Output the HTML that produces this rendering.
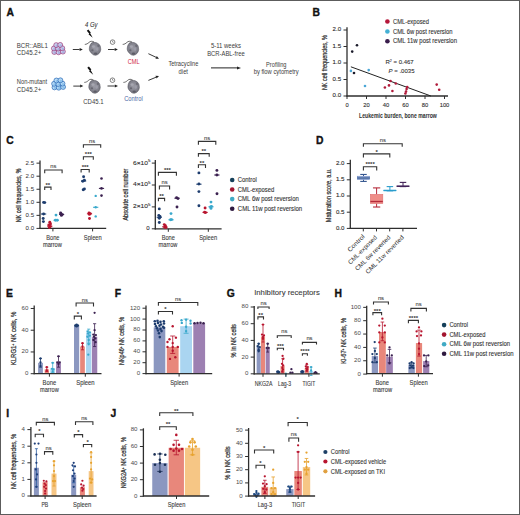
<!DOCTYPE html>
<html><head><meta charset="utf-8"><style>
html,body{margin:0;padding:0;background:#fff;}
svg{display:block;}
text{font-family:"Liberation Sans", sans-serif;}
</style></head><body>
<svg width="520" height="515" viewBox="0 0 520 515">
<defs><radialGradient id="mg" cx="0.5" cy="0.45" r="0.6"><stop offset="0" stop-color="#9c9ca6"/><stop offset="0.7" stop-color="#80808a"/><stop offset="1" stop-color="#62626b"/></radialGradient></defs>
<rect width="520" height="515" fill="#fff"/>
<text x="6.60" y="15.90" font-size="10.3" fill="#111" font-weight="bold" stroke="#111" stroke-width="0.35">A</text>
<text x="312.60" y="15.90" font-size="10.3" fill="#111" font-weight="bold" stroke="#111" stroke-width="0.35">B</text>
<text x="6.30" y="143.90" font-size="10.3" fill="#111" font-weight="bold" stroke="#111" stroke-width="0.35">C</text>
<text x="316.00" y="143.90" font-size="10.3" fill="#111" font-weight="bold" stroke="#111" stroke-width="0.35">D</text>
<text x="5.90" y="296.90" font-size="10.3" fill="#111" font-weight="bold" stroke="#111" stroke-width="0.35">E</text>
<text x="114.80" y="296.80" font-size="10.3" fill="#111" font-weight="bold" stroke="#111" stroke-width="0.35">F</text>
<text x="226.80" y="297.00" font-size="10.3" fill="#111" font-weight="bold" stroke="#111" stroke-width="0.35">G</text>
<text x="334.40" y="297.00" font-size="10.3" fill="#111" font-weight="bold" stroke="#111" stroke-width="0.35">H</text>
<text x="6.30" y="416.90" font-size="10.3" fill="#111" font-weight="bold" stroke="#111" stroke-width="0.35">I</text>
<text x="110.60" y="416.90" font-size="10.3" fill="#111" font-weight="bold" stroke="#111" stroke-width="0.35">J</text>
<text x="16.80" y="47.80" font-size="6.3" fill="#3c3c3c" textLength="31.00" lengthAdjust="spacingAndGlyphs" >BCR::ABL1</text>
<text x="16.80" y="54.70" font-size="6.3" fill="#3c3c3c" textLength="24.50" lengthAdjust="spacingAndGlyphs" >CD45.2+</text>
<text x="16.80" y="84.20" font-size="6.3" fill="#3c3c3c" textLength="30.20" lengthAdjust="spacingAndGlyphs" >Non-mutant</text>
<text x="16.80" y="91.70" font-size="6.3" fill="#3c3c3c" textLength="24.50" lengthAdjust="spacingAndGlyphs" >CD45.2+</text>
<circle cx="54.30" cy="52.00" r="2.45" fill="#ccd2f0" stroke="#962c6e" stroke-width="0.65"/>
<circle cx="54.80" cy="52.60" r="1.20" fill="#8e94d4" fill-opacity="0.55"/>
<circle cx="58.60" cy="52.30" r="2.45" fill="#ccd2f0" stroke="#962c6e" stroke-width="0.65"/>
<circle cx="59.10" cy="52.90" r="1.20" fill="#8e94d4" fill-opacity="0.55"/>
<circle cx="62.90" cy="51.60" r="2.45" fill="#ccd2f0" stroke="#962c6e" stroke-width="0.65"/>
<circle cx="63.40" cy="52.20" r="1.20" fill="#8e94d4" fill-opacity="0.55"/>
<circle cx="53.90" cy="48.40" r="2.45" fill="#ccd2f0" stroke="#962c6e" stroke-width="0.65"/>
<circle cx="54.40" cy="49.00" r="1.20" fill="#8e94d4" fill-opacity="0.55"/>
<circle cx="58.10" cy="48.60" r="2.45" fill="#ccd2f0" stroke="#962c6e" stroke-width="0.65"/>
<circle cx="58.60" cy="49.20" r="1.20" fill="#8e94d4" fill-opacity="0.55"/>
<circle cx="62.30" cy="48.20" r="2.45" fill="#ccd2f0" stroke="#962c6e" stroke-width="0.65"/>
<circle cx="62.80" cy="48.80" r="1.20" fill="#8e94d4" fill-opacity="0.55"/>
<circle cx="56.20" cy="45.10" r="2.45" fill="#ccd2f0" stroke="#962c6e" stroke-width="0.65"/>
<circle cx="56.70" cy="45.70" r="1.20" fill="#8e94d4" fill-opacity="0.55"/>
<circle cx="60.20" cy="44.90" r="2.45" fill="#ccd2f0" stroke="#962c6e" stroke-width="0.65"/>
<circle cx="60.70" cy="45.50" r="1.20" fill="#8e94d4" fill-opacity="0.55"/>
<circle cx="54.50" cy="87.40" r="2.45" fill="#b6daf6" stroke="#1a5fb0" stroke-width="0.65"/>
<circle cx="55.00" cy="88.00" r="1.20" fill="#6eaee6" fill-opacity="0.55"/>
<circle cx="58.80" cy="87.70" r="2.45" fill="#b6daf6" stroke="#1a5fb0" stroke-width="0.65"/>
<circle cx="59.30" cy="88.30" r="1.20" fill="#6eaee6" fill-opacity="0.55"/>
<circle cx="63.10" cy="87.00" r="2.45" fill="#b6daf6" stroke="#1a5fb0" stroke-width="0.65"/>
<circle cx="63.60" cy="87.60" r="1.20" fill="#6eaee6" fill-opacity="0.55"/>
<circle cx="54.10" cy="83.80" r="2.45" fill="#b6daf6" stroke="#1a5fb0" stroke-width="0.65"/>
<circle cx="54.60" cy="84.40" r="1.20" fill="#6eaee6" fill-opacity="0.55"/>
<circle cx="58.30" cy="84.00" r="2.45" fill="#b6daf6" stroke="#1a5fb0" stroke-width="0.65"/>
<circle cx="58.80" cy="84.60" r="1.20" fill="#6eaee6" fill-opacity="0.55"/>
<circle cx="62.50" cy="83.60" r="2.45" fill="#b6daf6" stroke="#1a5fb0" stroke-width="0.65"/>
<circle cx="63.00" cy="84.20" r="1.20" fill="#6eaee6" fill-opacity="0.55"/>
<circle cx="56.40" cy="80.50" r="2.45" fill="#b6daf6" stroke="#1a5fb0" stroke-width="0.65"/>
<circle cx="56.90" cy="81.10" r="1.20" fill="#6eaee6" fill-opacity="0.55"/>
<circle cx="60.40" cy="80.30" r="2.45" fill="#b6daf6" stroke="#1a5fb0" stroke-width="0.65"/>
<circle cx="60.90" cy="80.90" r="1.20" fill="#6eaee6" fill-opacity="0.55"/>
<line x1="72.80" y1="49.50" x2="79.60" y2="49.50" stroke="#222" stroke-width="0.9" />
<path d="M82.80,49.50 L79.60,51.00 L79.60,48.00 Z" stroke="none" fill="#222" stroke-width="1.0" />
<line x1="73.30" y1="86.10" x2="80.10" y2="86.10" stroke="#222" stroke-width="0.9" />
<path d="M83.30,86.10 L80.10,87.60 L80.10,84.60 Z" stroke="none" fill="#222" stroke-width="1.0" />
<line x1="108.00" y1="49.50" x2="114.70" y2="49.50" stroke="#222" stroke-width="0.9" />
<path d="M117.90,49.50 L114.70,51.00 L114.70,48.00 Z" stroke="none" fill="#222" stroke-width="1.0" />
<line x1="107.50" y1="86.00" x2="114.80" y2="86.00" stroke="#222" stroke-width="0.9" />
<path d="M118.00,86.00 L114.80,87.50 L114.80,84.50 Z" stroke="none" fill="#222" stroke-width="1.0" />
<text x="85.00" y="26.80" font-size="6.4" fill="#3a3a3a" font-style="italic" textLength="12.40" lengthAdjust="spacingAndGlyphs"  stroke="#3a3a3a" stroke-width="0.1">4 Gy</text>
<path d="M86.80,30.80 L88.40,29.60 L90.90,32.70 L90.10,33.10 L92.70,37.80 L88.50,34.30 L89.30,33.80 Z" stroke="none" fill="#111" stroke-width="1.0" />
<path d="M87.30,67.70 L88.90,66.50 L91.40,69.60 L90.60,70.00 L93.20,74.70 L89.00,71.20 L89.80,70.70 Z" stroke="none" fill="#111" stroke-width="1.0" />
<path d="M92.20,42.60 C96.00,41.60 99.60,43.80 100.40,46.40 L100.80,49.60 C100.60,52.20 98.60,54.80 96.00,55.20 C94.40,55.40 93.00,55.00 92.20,53.80 C90.20,52.20 89.10,50.40 89.30,48.40 C89.50,45.60 90.60,43.40 92.20,42.60 Z" stroke="#55555e" fill="url(#mg)" stroke-width="0.5" />
<ellipse cx="93.50" cy="46.60" rx="1.6" ry="1.4" fill="#a6a6b0"/>
<ellipse cx="97.20" cy="49.10" rx="1.3" ry="1.8" fill="#9c9ca8"/>
<ellipse cx="92.40" cy="50.20" rx="1.2" ry="1.0" fill="#686872"/>
<ellipse cx="95.60" cy="53.60" rx="1.7" ry="1.0" fill="#5c5c66"/>
<ellipse cx="98.40" cy="45.80" rx="1.1" ry="1.3" fill="#6c6c76"/>
<path d="M94.00,42.00 C92.40,41.00 90.40,41.00 89.00,42.40 C87.80,43.60 86.40,44.40 84.80,44.40" stroke="#3a3a3a" fill="none" stroke-width="0.75" />
<path d="M91.70,80.60 C95.50,79.60 99.10,81.80 99.90,84.40 L100.30,87.60 C100.10,90.20 98.10,92.80 95.50,93.20 C93.90,93.40 92.50,93.00 91.70,91.80 C89.70,90.20 88.60,88.40 88.80,86.40 C89.00,83.60 90.10,81.40 91.70,80.60 Z" stroke="#55555e" fill="url(#mg)" stroke-width="0.5" />
<ellipse cx="93.00" cy="84.60" rx="1.6" ry="1.4" fill="#a6a6b0"/>
<ellipse cx="96.70" cy="87.10" rx="1.3" ry="1.8" fill="#9c9ca8"/>
<ellipse cx="91.90" cy="88.20" rx="1.2" ry="1.0" fill="#686872"/>
<ellipse cx="95.10" cy="91.60" rx="1.7" ry="1.0" fill="#5c5c66"/>
<ellipse cx="97.90" cy="83.80" rx="1.1" ry="1.3" fill="#6c6c76"/>
<path d="M93.50,80.00 C91.90,79.00 89.90,79.00 88.50,80.40 C87.30,81.60 85.90,82.40 84.30,82.40" stroke="#3a3a3a" fill="none" stroke-width="0.75" />
<path d="M130.10,42.60 C133.90,41.60 137.50,43.80 138.30,46.40 L138.70,49.60 C138.50,52.20 136.50,54.80 133.90,55.20 C132.30,55.40 130.90,55.00 130.10,53.80 C128.10,52.20 127.00,50.40 127.20,48.40 C127.40,45.60 128.50,43.40 130.10,42.60 Z" stroke="#55555e" fill="url(#mg)" stroke-width="0.5" />
<ellipse cx="131.40" cy="46.60" rx="1.6" ry="1.4" fill="#a6a6b0"/>
<ellipse cx="135.10" cy="49.10" rx="1.3" ry="1.8" fill="#9c9ca8"/>
<ellipse cx="130.30" cy="50.20" rx="1.2" ry="1.0" fill="#686872"/>
<ellipse cx="133.50" cy="53.60" rx="1.7" ry="1.0" fill="#5c5c66"/>
<ellipse cx="136.30" cy="45.80" rx="1.1" ry="1.3" fill="#6c6c76"/>
<path d="M131.90,42.00 C130.30,41.00 128.30,41.00 126.90,42.40 C125.70,43.60 124.30,44.40 122.70,44.40" stroke="#3a3a3a" fill="none" stroke-width="0.75" />
<path d="M130.80,80.60 C134.60,79.60 138.20,81.80 139.00,84.40 L139.40,87.60 C139.20,90.20 137.20,92.80 134.60,93.20 C133.00,93.40 131.60,93.00 130.80,91.80 C128.80,90.20 127.70,88.40 127.90,86.40 C128.10,83.60 129.20,81.40 130.80,80.60 Z" stroke="#55555e" fill="url(#mg)" stroke-width="0.5" />
<ellipse cx="132.10" cy="84.60" rx="1.6" ry="1.4" fill="#a6a6b0"/>
<ellipse cx="135.80" cy="87.10" rx="1.3" ry="1.8" fill="#9c9ca8"/>
<ellipse cx="131.00" cy="88.20" rx="1.2" ry="1.0" fill="#686872"/>
<ellipse cx="134.20" cy="91.60" rx="1.7" ry="1.0" fill="#5c5c66"/>
<ellipse cx="137.00" cy="83.80" rx="1.1" ry="1.3" fill="#6c6c76"/>
<path d="M132.60,80.00 C131.00,79.00 129.00,79.00 127.60,80.40 C126.40,81.60 125.00,82.40 123.40,82.40" stroke="#3a3a3a" fill="none" stroke-width="0.75" />
<circle cx="112.60" cy="42.10" r="2.30" fill="none" stroke="#333" stroke-width="0.6"/>
<line x1="112.60" y1="40.70" x2="112.60" y2="42.10" stroke="#333" stroke-width="0.5" />
<line x1="112.60" y1="42.10" x2="113.60" y2="42.50" stroke="#333" stroke-width="0.5" />
<circle cx="112.50" cy="80.20" r="2.30" fill="none" stroke="#333" stroke-width="0.6"/>
<line x1="112.50" y1="78.80" x2="112.50" y2="80.20" stroke="#333" stroke-width="0.5" />
<line x1="112.50" y1="80.20" x2="113.50" y2="80.60" stroke="#333" stroke-width="0.5" />
<text x="127.80" y="64.40" font-size="6.3" fill="#d0253f" textLength="11.80" lengthAdjust="spacingAndGlyphs" >CML</text>
<text x="124.20" y="101.00" font-size="6.3" fill="#4a6aa6" textLength="18.60" lengthAdjust="spacingAndGlyphs" >Control</text>
<text x="83.30" y="103.70" font-size="6.3" fill="#3c3c3c" textLength="20.20" lengthAdjust="spacingAndGlyphs" >CD45.1</text>
<line x1="148.40" y1="53.70" x2="156.11" y2="57.33" stroke="#222" stroke-width="0.9" />
<path d="M159.00,58.70 L155.47,58.69 L156.75,55.98 Z" stroke="none" fill="#222" stroke-width="1.0" />
<line x1="148.40" y1="80.40" x2="156.04" y2="77.23" stroke="#222" stroke-width="0.9" />
<path d="M159.00,76.00 L156.62,78.61 L155.47,75.84 Z" stroke="none" fill="#222" stroke-width="1.0" />
<text x="168.40" y="66.40" font-size="6.3" fill="#3c3c3c" textLength="29.90" lengthAdjust="spacingAndGlyphs" >Tetracycline</text>
<text x="178.60" y="73.50" font-size="6.3" fill="#3c3c3c" textLength="9.40" lengthAdjust="spacingAndGlyphs" >diet</text>
<text x="210.90" y="48.40" font-size="6.3" fill="#3c3c3c" textLength="30.10" lengthAdjust="spacingAndGlyphs" >5-11 weeks</text>
<text x="207.20" y="55.80" font-size="6.3" fill="#3c3c3c" textLength="37.50" lengthAdjust="spacingAndGlyphs" >BCR-ABL-free</text>
<line x1="211.00" y1="67.90" x2="237.00" y2="67.90" stroke="#222" stroke-width="1.0" />
<path d="M241.00,67.90 L237.00,69.40 L237.00,66.40 Z" stroke="none" fill="#222" stroke-width="1.0" />
<text x="266.10" y="66.70" font-size="6.3" fill="#3c3c3c" textLength="20.40" lengthAdjust="spacingAndGlyphs" >Profiling</text>
<text x="253.70" y="73.80" font-size="6.3" fill="#3c3c3c" textLength="45.00" lengthAdjust="spacingAndGlyphs" >by flow cytometry</text>
<line x1="347.00" y1="27.30" x2="347.00" y2="96.60" stroke="#2e2e2e" stroke-width="1.3" />
<line x1="343.50" y1="96.00" x2="347.00" y2="96.00" stroke="#2e2e2e" stroke-width="1.0" />
<text x="341.10" y="97.40" font-size="6.1" fill="#2e2e2e" text-anchor="end"  stroke="#2e2e2e" stroke-width="0.12">0.0</text>
<line x1="343.50" y1="79.50" x2="347.00" y2="79.50" stroke="#2e2e2e" stroke-width="1.0" />
<text x="341.10" y="80.90" font-size="6.1" fill="#2e2e2e" text-anchor="end"  stroke="#2e2e2e" stroke-width="0.12">0.5</text>
<line x1="343.50" y1="63.00" x2="347.00" y2="63.00" stroke="#2e2e2e" stroke-width="1.0" />
<text x="341.10" y="64.40" font-size="6.1" fill="#2e2e2e" text-anchor="end"  stroke="#2e2e2e" stroke-width="0.12">1.0</text>
<line x1="343.50" y1="46.50" x2="347.00" y2="46.50" stroke="#2e2e2e" stroke-width="1.0" />
<text x="341.10" y="47.90" font-size="6.1" fill="#2e2e2e" text-anchor="end"  stroke="#2e2e2e" stroke-width="0.12">1.5</text>
<line x1="343.50" y1="30.00" x2="347.00" y2="30.00" stroke="#2e2e2e" stroke-width="1.0" />
<text x="341.10" y="31.40" font-size="6.1" fill="#2e2e2e" text-anchor="end"  stroke="#2e2e2e" stroke-width="0.12">2.0</text>
<line x1="346.50" y1="96.00" x2="448.00" y2="96.00" stroke="#2e2e2e" stroke-width="1.3" />
<line x1="347.00" y1="96.00" x2="347.00" y2="99.00" stroke="#2e2e2e" stroke-width="1.0" />
<line x1="366.50" y1="96.00" x2="366.50" y2="99.00" stroke="#2e2e2e" stroke-width="1.0" />
<line x1="386.00" y1="96.00" x2="386.00" y2="99.00" stroke="#2e2e2e" stroke-width="1.0" />
<line x1="405.50" y1="96.00" x2="405.50" y2="99.00" stroke="#2e2e2e" stroke-width="1.0" />
<line x1="425.00" y1="96.00" x2="425.00" y2="99.00" stroke="#2e2e2e" stroke-width="1.0" />
<line x1="444.50" y1="96.00" x2="444.50" y2="99.00" stroke="#2e2e2e" stroke-width="1.0" />
<text x="347.00" y="106.60" font-size="5.8" fill="#2e2e2e" text-anchor="middle"  stroke="#2e2e2e" stroke-width="0.1">0</text>
<text x="366.50" y="106.60" font-size="5.8" fill="#2e2e2e" text-anchor="middle"  stroke="#2e2e2e" stroke-width="0.1">20</text>
<text x="386.00" y="106.60" font-size="5.8" fill="#2e2e2e" text-anchor="middle"  stroke="#2e2e2e" stroke-width="0.1">40</text>
<text x="405.50" y="106.60" font-size="5.8" fill="#2e2e2e" text-anchor="middle"  stroke="#2e2e2e" stroke-width="0.1">60</text>
<text x="425.00" y="106.60" font-size="5.8" fill="#2e2e2e" text-anchor="middle"  stroke="#2e2e2e" stroke-width="0.1">80</text>
<text x="444.50" y="106.60" font-size="5.8" fill="#2e2e2e" text-anchor="middle"  stroke="#2e2e2e" stroke-width="0.1">100</text>
<text x="0" y="0" font-size="7.0" font-weight="normal" fill="#333333" stroke="#333333" stroke-width="0.26" text-anchor="middle" textLength="55.00" lengthAdjust="spacingAndGlyphs" transform="translate(327.10 62.60) rotate(-90)">NK cell frequencies, %</text>
<text x="359.00" y="118.30" font-size="6.6" fill="#2f2f2f" font-weight="bold" textLength="77.80" lengthAdjust="spacingAndGlyphs" >Leukemic burden, bone marrow</text>
<line x1="350.90" y1="66.80" x2="430.90" y2="96.00" stroke="#222" stroke-width="1.0" />
<circle cx="357.00" cy="45.30" r="1.30" fill="#1a1a2a" />
<circle cx="352.20" cy="51.60" r="1.30" fill="#1a1a2a" />
<circle cx="354.00" cy="73.00" r="1.30" fill="#1a1a2a" />
<circle cx="350.90" cy="70.90" r="1.30" fill="#4aa6d6" />
<circle cx="368.70" cy="70.10" r="1.30" fill="#4aa6d6" />
<circle cx="365.00" cy="86.00" r="1.30" fill="#4aa6d6" />
<circle cx="384.90" cy="87.50" r="1.30" fill="#b01a3a" />
<circle cx="389.00" cy="85.40" r="1.30" fill="#b01a3a" />
<circle cx="390.50" cy="81.00" r="1.30" fill="#b01a3a" />
<circle cx="392.40" cy="91.00" r="1.30" fill="#b01a3a" />
<circle cx="395.80" cy="83.50" r="1.30" fill="#b01a3a" />
<circle cx="406.60" cy="89.10" r="1.30" fill="#b01a3a" />
<circle cx="406.00" cy="91.60" r="1.30" fill="#b01a3a" />
<circle cx="405.40" cy="93.50" r="1.30" fill="#b01a3a" />
<circle cx="407.20" cy="87.00" r="1.30" fill="#b01a3a" />
<circle cx="436.70" cy="84.60" r="1.30" fill="#b01a3a" />
<circle cx="439.20" cy="89.80" r="1.30" fill="#b01a3a" />
<text x="385.50" y="64.30" font-size="6.0" fill="#333"  stroke="#333" stroke-width="0.1">R<tspan font-size="3.6" dy="-2.4">2</tspan><tspan dy="2.4"> = 0.467</tspan></text>
<text x="388.60" y="73.00" font-size="6.0" fill="#333"  stroke="#333" stroke-width="0.1"><tspan font-style="italic">P</tspan> = .0035</text>
<circle cx="387.40" cy="21.50" r="2.30" fill="#b5173a" />
<text x="393.00" y="23.70" font-size="6.35" fill="#333" textLength="36.00" lengthAdjust="spacingAndGlyphs"  stroke="#333" stroke-width="0.1">CML-exposed</text>
<circle cx="387.40" cy="31.50" r="2.30" fill="#44b0d4" />
<text x="393.00" y="33.70" font-size="6.35" fill="#333" textLength="59.60" lengthAdjust="spacingAndGlyphs"  stroke="#333" stroke-width="0.1">CML 6w post reversion</text>
<circle cx="387.40" cy="41.20" r="2.30" fill="#3a1d4c" />
<text x="393.00" y="43.40" font-size="6.35" fill="#333" textLength="64.00" lengthAdjust="spacingAndGlyphs"  stroke="#333" stroke-width="0.1">CML 11w post reversion</text>
<line x1="40.00" y1="160.40" x2="40.00" y2="229.00" stroke="#2e2e2e" stroke-width="1.3" />
<line x1="36.50" y1="228.40" x2="40.00" y2="228.40" stroke="#2e2e2e" stroke-width="1.0" />
<text x="34.10" y="229.80" font-size="6.1" fill="#3a3a3a" text-anchor="end"  stroke="#3a3a3a" stroke-width="0.05">0.0</text>
<line x1="36.50" y1="215.35" x2="40.00" y2="215.35" stroke="#2e2e2e" stroke-width="1.0" />
<text x="34.10" y="216.75" font-size="6.1" fill="#3a3a3a" text-anchor="end"  stroke="#3a3a3a" stroke-width="0.05">0.5</text>
<line x1="36.50" y1="202.30" x2="40.00" y2="202.30" stroke="#2e2e2e" stroke-width="1.0" />
<text x="34.10" y="203.70" font-size="6.1" fill="#3a3a3a" text-anchor="end"  stroke="#3a3a3a" stroke-width="0.05">1.0</text>
<line x1="36.50" y1="189.25" x2="40.00" y2="189.25" stroke="#2e2e2e" stroke-width="1.0" />
<text x="34.10" y="190.65" font-size="6.1" fill="#3a3a3a" text-anchor="end"  stroke="#3a3a3a" stroke-width="0.05">1.5</text>
<line x1="36.50" y1="176.20" x2="40.00" y2="176.20" stroke="#2e2e2e" stroke-width="1.0" />
<text x="34.10" y="177.60" font-size="6.1" fill="#3a3a3a" text-anchor="end"  stroke="#3a3a3a" stroke-width="0.05">2.0</text>
<line x1="36.50" y1="163.15" x2="40.00" y2="163.15" stroke="#2e2e2e" stroke-width="1.0" />
<text x="34.10" y="164.55" font-size="6.1" fill="#3a3a3a" text-anchor="end"  stroke="#3a3a3a" stroke-width="0.05">2.5</text>
<line x1="39.50" y1="228.40" x2="106.20" y2="228.40" stroke="#2e2e2e" stroke-width="1.3" />
<line x1="52.90" y1="228.40" x2="52.90" y2="231.40" stroke="#2e2e2e" stroke-width="1.0" />
<line x1="92.60" y1="228.40" x2="92.60" y2="231.40" stroke="#2e2e2e" stroke-width="1.0" />
<text x="0" y="0" font-size="7.0" font-weight="normal" fill="#333333" stroke="#333333" stroke-width="0.26" text-anchor="middle" textLength="53.60" lengthAdjust="spacingAndGlyphs" transform="translate(20.70 195.40) rotate(-90)">NK cell frequencies, %</text>
<text x="52.90" y="239.70" font-size="6.4" fill="#3a3a3a" text-anchor="middle" textLength="13.20" lengthAdjust="spacingAndGlyphs"  stroke="#3a3a3a" stroke-width="0.1">Bone</text>
<text x="52.40" y="247.30" font-size="6.4" fill="#3a3a3a" text-anchor="middle" textLength="19.00" lengthAdjust="spacingAndGlyphs"  stroke="#3a3a3a" stroke-width="0.1">marrow</text>
<text x="92.80" y="239.70" font-size="6.4" fill="#3a3a3a" text-anchor="middle" textLength="18.00" lengthAdjust="spacingAndGlyphs"  stroke="#3a3a3a" stroke-width="0.1">Spleen</text>
<circle cx="43.60" cy="202.40" r="1.45" fill="#1d3c6e" />
<circle cx="44.80" cy="202.60" r="1.45" fill="#1d3c6e" />
<circle cx="43.60" cy="214.00" r="1.45" fill="#1d3c6e" />
<circle cx="43.20" cy="218.50" r="1.45" fill="#1d3c6e" />
<circle cx="43.40" cy="221.60" r="1.45" fill="#1d3c6e" />
<line x1="41.00" y1="214.00" x2="46.20" y2="214.00" stroke="#1d3c6e" stroke-width="1.1" />
<circle cx="49.80" cy="222.30" r="1.45" fill="#b8152f" />
<circle cx="48.80" cy="225.00" r="1.45" fill="#b8152f" />
<circle cx="50.30" cy="226.50" r="1.45" fill="#b8152f" />
<circle cx="49.40" cy="227.60" r="1.45" fill="#b8152f" />
<circle cx="50.50" cy="224.00" r="1.45" fill="#b8152f" />
<line x1="47.20" y1="226.20" x2="52.40" y2="226.20" stroke="#b8152f" stroke-width="1.1" />
<circle cx="56.00" cy="215.10" r="1.45" fill="#3aa9cc" />
<circle cx="55.40" cy="220.20" r="1.45" fill="#3aa9cc" />
<circle cx="57.20" cy="220.30" r="1.45" fill="#3aa9cc" />
<line x1="53.60" y1="220.20" x2="58.80" y2="220.20" stroke="#3aa9cc" stroke-width="1.1" />
<circle cx="61.00" cy="213.80" r="1.45" fill="#3b2150" />
<circle cx="62.30" cy="214.60" r="1.45" fill="#3b2150" />
<circle cx="61.40" cy="215.40" r="1.45" fill="#3b2150" />
<circle cx="60.60" cy="213.00" r="1.45" fill="#3b2150" />
<line x1="59.00" y1="214.40" x2="64.20" y2="214.40" stroke="#3b2150" stroke-width="1.1" />
<circle cx="83.60" cy="176.80" r="1.45" fill="#1d3c6e" />
<circle cx="82.80" cy="181.30" r="1.45" fill="#1d3c6e" />
<circle cx="84.40" cy="180.30" r="1.45" fill="#1d3c6e" />
<circle cx="83.20" cy="189.70" r="1.45" fill="#1d3c6e" />
<circle cx="84.40" cy="189.00" r="1.45" fill="#1d3c6e" />
<line x1="81.00" y1="181.00" x2="86.20" y2="181.00" stroke="#1d3c6e" stroke-width="1.1" />
<circle cx="89.00" cy="213.00" r="1.45" fill="#b8152f" />
<circle cx="90.20" cy="213.60" r="1.45" fill="#b8152f" />
<circle cx="89.40" cy="214.40" r="1.45" fill="#b8152f" />
<circle cx="89.50" cy="218.50" r="1.45" fill="#b8152f" />
<line x1="86.90" y1="213.80" x2="92.10" y2="213.80" stroke="#b8152f" stroke-width="1.1" />
<circle cx="95.70" cy="195.90" r="1.20" fill="#3aa9cc" />
<circle cx="95.70" cy="216.40" r="1.20" fill="#3aa9cc" />
<circle cx="95.70" cy="207.30" r="1.20" fill="#3aa9cc" />
<line x1="93.10" y1="207.30" x2="98.30" y2="207.30" stroke="#3aa9cc" stroke-width="1.1" />
<circle cx="101.50" cy="178.50" r="1.30" fill="#3b2150" />
<circle cx="101.50" cy="195.60" r="1.30" fill="#3b2150" />
<circle cx="101.50" cy="188.40" r="1.30" fill="#3b2150" />
<line x1="98.90" y1="188.40" x2="104.10" y2="188.40" stroke="#3b2150" stroke-width="1.1" />
<path d="M44.70,173.30 V170.00 H62.10 V173.30" stroke="#333333" fill="none" stroke-width="1.1" />
<text x="53.40" y="168.30" font-size="5.8" fill="#444" text-anchor="middle"  stroke="#444" stroke-width="0.1">ns</text>
<path d="M44.70,190.10 V187.10 H51.00 V190.10" stroke="#333333" fill="none" stroke-width="1.1" />
<text x="47.85" y="186.60" font-size="6.0" fill="#333333" text-anchor="middle" font-weight="bold" >**</text>
<path d="M83.40,147.70 V144.70 H100.70 V147.70" stroke="#333333" fill="none" stroke-width="1.1" />
<text x="92.05" y="142.60" font-size="5.8" fill="#444" text-anchor="middle"  stroke="#444" stroke-width="0.1">ns</text>
<path d="M83.40,159.80 V156.80 H93.30 V159.80" stroke="#333333" fill="none" stroke-width="1.1" />
<text x="88.35" y="156.00" font-size="6.0" fill="#333333" text-anchor="middle" font-weight="bold" >***</text>
<path d="M81.10,172.50 V169.50 H89.20 V172.50" stroke="#333333" fill="none" stroke-width="1.1" />
<text x="85.15" y="169.00" font-size="6.0" fill="#333333" text-anchor="middle" font-weight="bold" >***</text>
<line x1="155.30" y1="160.00" x2="155.30" y2="229.40" stroke="#2e2e2e" stroke-width="1.3" />
<line x1="151.80" y1="228.80" x2="155.30" y2="228.80" stroke="#2e2e2e" stroke-width="1.0" />
<line x1="151.80" y1="206.90" x2="155.30" y2="206.90" stroke="#2e2e2e" stroke-width="1.0" />
<line x1="151.80" y1="185.00" x2="155.30" y2="185.00" stroke="#2e2e2e" stroke-width="1.0" />
<line x1="151.80" y1="163.10" x2="155.30" y2="163.10" stroke="#2e2e2e" stroke-width="1.0" />
<text x="150.40" y="208.30" font-size="6.1" fill="#2e2e2e" text-anchor="end" textLength="17.40" lengthAdjust="spacingAndGlyphs"  stroke="#2e2e2e" stroke-width="0.1">2×10<tspan font-size="4.0" dy="-2.6">5</tspan></text>
<text x="150.40" y="186.40" font-size="6.1" fill="#2e2e2e" text-anchor="end" textLength="17.40" lengthAdjust="spacingAndGlyphs"  stroke="#2e2e2e" stroke-width="0.1">4×10<tspan font-size="4.0" dy="-2.6">5</tspan></text>
<text x="150.40" y="164.50" font-size="6.1" fill="#2e2e2e" text-anchor="end" textLength="17.40" lengthAdjust="spacingAndGlyphs"  stroke="#2e2e2e" stroke-width="0.1">6×10<tspan font-size="4.0" dy="-2.6">5</tspan></text>
<text x="149.60" y="230.20" font-size="6.1" fill="#2e2e2e" text-anchor="end"  stroke="#2e2e2e" stroke-width="0.1">0</text>
<line x1="154.80" y1="228.80" x2="221.60" y2="228.80" stroke="#2e2e2e" stroke-width="1.3" />
<line x1="168.30" y1="228.80" x2="168.30" y2="231.80" stroke="#2e2e2e" stroke-width="1.0" />
<line x1="208.30" y1="228.80" x2="208.30" y2="231.80" stroke="#2e2e2e" stroke-width="1.0" />
<text x="0" y="0" font-size="7.0" font-weight="normal" fill="#333333" stroke="#333333" stroke-width="0.26" text-anchor="middle" textLength="52.00" lengthAdjust="spacingAndGlyphs" transform="translate(127.50 194.60) rotate(-90)">Absolute cell number</text>
<text x="168.30" y="239.70" font-size="6.4" fill="#3a3a3a" text-anchor="middle" textLength="13.20" lengthAdjust="spacingAndGlyphs"  stroke="#3a3a3a" stroke-width="0.1">Bone</text>
<text x="168.00" y="247.30" font-size="6.4" fill="#3a3a3a" text-anchor="middle" textLength="18.80" lengthAdjust="spacingAndGlyphs"  stroke="#3a3a3a" stroke-width="0.1">marrow</text>
<text x="208.20" y="239.70" font-size="6.4" fill="#3a3a3a" text-anchor="middle" textLength="17.80" lengthAdjust="spacingAndGlyphs"  stroke="#3a3a3a" stroke-width="0.1">Spleen</text>
<circle cx="159.30" cy="208.90" r="1.45" fill="#1d3c6e" />
<circle cx="158.80" cy="215.40" r="1.45" fill="#1d3c6e" />
<circle cx="160.00" cy="216.50" r="1.45" fill="#1d3c6e" />
<circle cx="159.30" cy="218.30" r="1.45" fill="#1d3c6e" />
<circle cx="159.30" cy="222.50" r="1.45" fill="#1d3c6e" />
<line x1="156.70" y1="217.30" x2="161.90" y2="217.30" stroke="#1d3c6e" stroke-width="1.1" />
<circle cx="164.30" cy="224.60" r="1.45" fill="#b8152f" />
<circle cx="165.40" cy="225.80" r="1.45" fill="#b8152f" />
<circle cx="164.80" cy="227.20" r="1.45" fill="#b8152f" />
<circle cx="166.00" cy="227.60" r="1.45" fill="#b8152f" />
<line x1="162.20" y1="226.80" x2="167.40" y2="226.80" stroke="#b8152f" stroke-width="1.1" />
<circle cx="171.00" cy="213.60" r="1.45" fill="#3aa9cc" />
<circle cx="170.60" cy="219.80" r="1.45" fill="#3aa9cc" />
<circle cx="171.60" cy="219.60" r="1.45" fill="#3aa9cc" />
<line x1="168.40" y1="219.80" x2="173.60" y2="219.80" stroke="#3aa9cc" stroke-width="1.1" />
<circle cx="176.60" cy="197.80" r="1.45" fill="#3b2150" />
<circle cx="178.00" cy="198.60" r="1.45" fill="#3b2150" />
<circle cx="177.00" cy="207.00" r="1.45" fill="#3b2150" />
<line x1="174.40" y1="198.20" x2="179.60" y2="198.20" stroke="#3b2150" stroke-width="1.1" />
<circle cx="198.90" cy="172.90" r="1.45" fill="#1d3c6e" />
<circle cx="198.90" cy="184.00" r="1.45" fill="#1d3c6e" />
<circle cx="198.90" cy="191.60" r="1.45" fill="#1d3c6e" />
<circle cx="198.90" cy="205.80" r="1.45" fill="#1d3c6e" />
<line x1="196.30" y1="184.20" x2="201.50" y2="184.20" stroke="#1d3c6e" stroke-width="1.1" />
<circle cx="205.10" cy="208.00" r="1.45" fill="#b8152f" />
<circle cx="204.60" cy="212.20" r="1.45" fill="#b8152f" />
<circle cx="205.60" cy="212.60" r="1.45" fill="#b8152f" />
<line x1="202.50" y1="212.40" x2="207.70" y2="212.40" stroke="#b8152f" stroke-width="1.1" />
<circle cx="211.00" cy="202.10" r="1.45" fill="#3aa9cc" />
<circle cx="210.60" cy="207.00" r="1.45" fill="#3aa9cc" />
<circle cx="211.50" cy="206.40" r="1.45" fill="#3aa9cc" />
<circle cx="211.00" cy="208.40" r="1.45" fill="#3aa9cc" />
<line x1="208.40" y1="206.80" x2="213.60" y2="206.80" stroke="#3aa9cc" stroke-width="1.1" />
<circle cx="216.90" cy="170.40" r="1.45" fill="#3b2150" />
<circle cx="216.90" cy="175.00" r="1.45" fill="#3b2150" />
<circle cx="217.00" cy="193.70" r="1.45" fill="#3b2150" />
<line x1="214.30" y1="175.00" x2="219.50" y2="175.00" stroke="#3b2150" stroke-width="1.1" />
<path d="M158.40,175.80 V172.40 H176.40 V175.80" stroke="#333333" fill="none" stroke-width="1.1" />
<text x="167.40" y="172.30" font-size="6.0" fill="#333333" text-anchor="middle" font-weight="bold" >***</text>
<path d="M159.40,189.40 V186.00 H169.60 V189.40" stroke="#333333" fill="none" stroke-width="1.1" />
<text x="164.50" y="183.90" font-size="5.8" fill="#444" text-anchor="middle"  stroke="#444" stroke-width="0.1">ns</text>
<path d="M158.40,201.20 V198.40 H164.60 V201.20" stroke="#333333" fill="none" stroke-width="1.1" />
<text x="161.50" y="198.30" font-size="6.0" fill="#333333" text-anchor="middle" font-weight="bold" >**</text>
<path d="M198.40,144.70 V141.40 H215.80 V144.70" stroke="#333333" fill="none" stroke-width="1.1" />
<text x="207.10" y="139.70" font-size="5.8" fill="#444" text-anchor="middle"  stroke="#444" stroke-width="0.1">ns</text>
<path d="M198.40,156.70 V153.60 H209.20 V156.70" stroke="#333333" fill="none" stroke-width="1.1" />
<text x="203.80" y="153.20" font-size="6.0" fill="#333333" text-anchor="middle" font-weight="bold" >**</text>
<path d="M198.40,167.90 V164.80 H205.50 V167.90" stroke="#333333" fill="none" stroke-width="1.1" />
<text x="201.95" y="164.70" font-size="6.0" fill="#333333" text-anchor="middle" font-weight="bold" >**</text>
<circle cx="232.20" cy="180.00" r="2.30" fill="#15405a" />
<text x="237.80" y="182.20" font-size="6.35" fill="#333" textLength="19.00" lengthAdjust="spacingAndGlyphs"  stroke="#333" stroke-width="0.1">Control</text>
<circle cx="232.20" cy="189.50" r="2.30" fill="#a3152f" />
<text x="237.80" y="191.70" font-size="6.35" fill="#333" textLength="36.40" lengthAdjust="spacingAndGlyphs"  stroke="#333" stroke-width="0.1">CML-exposed</text>
<circle cx="232.20" cy="199.10" r="2.30" fill="#40aac4" />
<text x="237.80" y="201.30" font-size="6.35" fill="#333" textLength="61.00" lengthAdjust="spacingAndGlyphs"  stroke="#333" stroke-width="0.1">CML 6w post reversion</text>
<circle cx="232.20" cy="208.70" r="2.30" fill="#2f1a40" />
<text x="237.80" y="210.90" font-size="6.35" fill="#333" textLength="64.40" lengthAdjust="spacingAndGlyphs"  stroke="#333" stroke-width="0.1">CML 11w post reversion</text>
<line x1="350.30" y1="159.80" x2="350.30" y2="229.00" stroke="#2e2e2e" stroke-width="1.3" />
<line x1="346.80" y1="228.40" x2="350.30" y2="228.40" stroke="#2e2e2e" stroke-width="1.0" />
<text x="344.40" y="229.80" font-size="6.1" fill="#2e2e2e" text-anchor="end"  stroke="#2e2e2e" stroke-width="0.12">0.0</text>
<line x1="346.80" y1="212.20" x2="350.30" y2="212.20" stroke="#2e2e2e" stroke-width="1.0" />
<text x="344.40" y="213.60" font-size="6.1" fill="#2e2e2e" text-anchor="end"  stroke="#2e2e2e" stroke-width="0.12">0.5</text>
<line x1="346.80" y1="196.00" x2="350.30" y2="196.00" stroke="#2e2e2e" stroke-width="1.0" />
<text x="344.40" y="197.40" font-size="6.1" fill="#2e2e2e" text-anchor="end"  stroke="#2e2e2e" stroke-width="0.12">1.0</text>
<line x1="346.80" y1="179.80" x2="350.30" y2="179.80" stroke="#2e2e2e" stroke-width="1.0" />
<text x="344.40" y="181.20" font-size="6.1" fill="#2e2e2e" text-anchor="end"  stroke="#2e2e2e" stroke-width="0.12">1.5</text>
<line x1="346.80" y1="163.60" x2="350.30" y2="163.60" stroke="#2e2e2e" stroke-width="1.0" />
<text x="344.40" y="165.00" font-size="6.1" fill="#2e2e2e" text-anchor="end"  stroke="#2e2e2e" stroke-width="0.12">2.0</text>
<line x1="349.80" y1="228.40" x2="417.00" y2="228.40" stroke="#2e2e2e" stroke-width="1.3" />
<line x1="363.30" y1="228.40" x2="363.30" y2="231.40" stroke="#2e2e2e" stroke-width="1.0" />
<line x1="376.50" y1="228.40" x2="376.50" y2="231.40" stroke="#2e2e2e" stroke-width="1.0" />
<line x1="389.70" y1="228.40" x2="389.70" y2="231.40" stroke="#2e2e2e" stroke-width="1.0" />
<line x1="402.90" y1="228.40" x2="402.90" y2="231.40" stroke="#2e2e2e" stroke-width="1.0" />
<text x="0" y="0" font-size="7.0" font-weight="normal" fill="#333333" stroke="#333333" stroke-width="0.26" text-anchor="middle" textLength="53.60" lengthAdjust="spacingAndGlyphs" transform="translate(331.00 195.40) rotate(-90)">Maturation score, a.u.</text>
<line x1="363.50" y1="174.45" x2="363.50" y2="176.24" stroke="#34568f" stroke-width="1.0" />
<line x1="363.50" y1="179.48" x2="363.50" y2="181.42" stroke="#34568f" stroke-width="1.0" />
<line x1="360.25" y1="174.45" x2="366.75" y2="174.45" stroke="#34568f" stroke-width="1.1" />
<line x1="360.25" y1="181.42" x2="366.75" y2="181.42" stroke="#34568f" stroke-width="1.1" />
<rect x="357.30" y="176.24" width="12.40" height="3.24" fill="#a9bbe0" stroke="#6a86c0" stroke-width="0.6"/>
<line x1="357.30" y1="178.02" x2="369.70" y2="178.02" stroke="#34568f" stroke-width="1.3" />
<line x1="376.60" y1="187.90" x2="376.60" y2="194.38" stroke="#b52a3a" stroke-width="1.0" />
<line x1="376.60" y1="203.45" x2="376.60" y2="207.02" stroke="#b52a3a" stroke-width="1.0" />
<line x1="372.95" y1="187.90" x2="380.25" y2="187.90" stroke="#b52a3a" stroke-width="1.1" />
<line x1="372.95" y1="207.02" x2="380.25" y2="207.02" stroke="#b52a3a" stroke-width="1.1" />
<rect x="370.40" y="194.38" width="12.40" height="9.07" fill="#ef8e88" stroke="#e07070" stroke-width="0.6"/>
<line x1="370.40" y1="201.51" x2="382.80" y2="201.51" stroke="#b52a3a" stroke-width="1.3" />
<line x1="389.90" y1="186.60" x2="389.90" y2="190.17" stroke="#2a9ccc" stroke-width="1.0" />
<line x1="389.90" y1="190.82" x2="389.90" y2="190.82" stroke="#2a9ccc" stroke-width="1.0" />
<line x1="386.65" y1="186.60" x2="393.15" y2="186.60" stroke="#2a9ccc" stroke-width="1.1" />
<line x1="386.65" y1="190.82" x2="393.15" y2="190.82" stroke="#2a9ccc" stroke-width="1.1" />
<rect x="383.70" y="190.17" width="12.40" height="0.65" fill="#88d0ef" stroke="#3bb0dc" stroke-width="0.6"/>
<line x1="383.70" y1="190.49" x2="396.10" y2="190.49" stroke="#2a9ccc" stroke-width="1.3" />
<line x1="403.00" y1="182.39" x2="403.00" y2="185.96" stroke="#3f1f55" stroke-width="1.0" />
<line x1="403.00" y1="186.60" x2="403.00" y2="186.60" stroke="#3f1f55" stroke-width="1.0" />
<line x1="399.75" y1="182.39" x2="406.25" y2="182.39" stroke="#3f1f55" stroke-width="1.1" />
<line x1="399.75" y1="186.60" x2="406.25" y2="186.60" stroke="#3f1f55" stroke-width="1.1" />
<rect x="396.80" y="185.96" width="12.40" height="0.65" fill="#8a6aa5" stroke="#4a2660" stroke-width="0.6"/>
<line x1="396.80" y1="186.28" x2="409.20" y2="186.28" stroke="#3f1f55" stroke-width="1.3" />
<path d="M363.40,146.80 V143.70 H402.20 V146.80" stroke="#333333" fill="none" stroke-width="1.1" />
<text x="382.80" y="142.00" font-size="5.8" fill="#444" text-anchor="middle"  stroke="#444" stroke-width="0.1">ns</text>
<path d="M363.40,157.40 V153.90 H389.80 V157.40" stroke="#333333" fill="none" stroke-width="1.1" />
<text x="376.60" y="153.60" font-size="6.0" fill="#333333" text-anchor="middle" font-weight="bold" >*</text>
<path d="M363.40,170.40 V166.70 H376.70 V170.40" stroke="#333333" fill="none" stroke-width="1.1" />
<text x="370.05" y="166.40" font-size="6.0" fill="#333333" text-anchor="middle" font-weight="bold" >****</text>
<text x="0" y="0" font-size="6.2" fill="#2e2e2e" text-anchor="end" textLength="21.5" lengthAdjust="spacingAndGlyphs" transform="translate(362.30 234.20) rotate(-45) translate(0 4.0)">Control</text>
<text x="0" y="0" font-size="6.2" fill="#2e2e2e" text-anchor="end" textLength="38.0" lengthAdjust="spacingAndGlyphs" transform="translate(374.60 235.00) rotate(-45) translate(0 4.0)">CML-exposed</text>
<text x="0" y="0" font-size="6.2" fill="#2e2e2e" text-anchor="end" textLength="47.0" lengthAdjust="spacingAndGlyphs" transform="translate(388.00 235.00) rotate(-45) translate(0 4.0)">CML 6w reverted</text>
<text x="0" y="0" font-size="6.2" fill="#2e2e2e" text-anchor="end" textLength="51.5" lengthAdjust="spacingAndGlyphs" transform="translate(401.50 235.00) rotate(-45) translate(0 4.0)">CML 11w reverted</text>
<line x1="34.20" y1="305.50" x2="34.20" y2="374.30" stroke="#2e2e2e" stroke-width="1.3" />
<line x1="30.70" y1="373.70" x2="34.20" y2="373.70" stroke="#2e2e2e" stroke-width="1.0" />
<text x="28.30" y="375.10" font-size="6.1" fill="#4a4a4a" text-anchor="end" >0</text>
<line x1="30.70" y1="351.96" x2="34.20" y2="351.96" stroke="#2e2e2e" stroke-width="1.0" />
<text x="28.30" y="353.36" font-size="6.1" fill="#4a4a4a" text-anchor="end" >20</text>
<line x1="30.70" y1="330.22" x2="34.20" y2="330.22" stroke="#2e2e2e" stroke-width="1.0" />
<text x="28.30" y="331.62" font-size="6.1" fill="#4a4a4a" text-anchor="end" >40</text>
<line x1="30.70" y1="308.48" x2="34.20" y2="308.48" stroke="#2e2e2e" stroke-width="1.0" />
<text x="28.30" y="309.88" font-size="6.1" fill="#4a4a4a" text-anchor="end" >60</text>
<text x="0" y="0" font-size="7.0" font-weight="normal" fill="#333333" stroke="#333333" stroke-width="0.26" text-anchor="middle" textLength="53.60" lengthAdjust="spacingAndGlyphs" transform="translate(15.90 338.40) rotate(-90)">KLRG1<tspan font-size="4" dy="-2">+</tspan><tspan dy="2"> NK cells, %</tspan></text>
<rect x="38.10" y="362.83" width="4.80" height="10.87" fill="#8b97c0" />
<rect x="44.70" y="369.35" width="4.20" height="4.35" fill="#e8877b" />
<rect x="50.30" y="368.26" width="4.80" height="5.44" fill="#aad5f1" />
<rect x="56.05" y="362.83" width="4.90" height="10.87" fill="#9d80b2" />
<line x1="40.50" y1="358.48" x2="40.50" y2="367.18" stroke="#1d3c6e" stroke-width="0.8" />
<line x1="39.00" y1="358.48" x2="42.00" y2="358.48" stroke="#1d3c6e" stroke-width="0.8" />
<line x1="39.00" y1="367.18" x2="42.00" y2="367.18" stroke="#1d3c6e" stroke-width="0.8" />
<circle cx="40.50" cy="358.48" r="1.15" fill="#1d3c6e" />
<circle cx="40.50" cy="362.29" r="1.15" fill="#1d3c6e" />
<circle cx="40.50" cy="366.09" r="1.15" fill="#1d3c6e" />
<line x1="46.80" y1="367.18" x2="46.80" y2="371.53" stroke="#b8152f" stroke-width="0.8" />
<line x1="45.30" y1="367.18" x2="48.30" y2="367.18" stroke="#b8152f" stroke-width="0.8" />
<line x1="45.30" y1="371.53" x2="48.30" y2="371.53" stroke="#b8152f" stroke-width="0.8" />
<circle cx="46.80" cy="367.18" r="1.15" fill="#b8152f" />
<circle cx="46.80" cy="370.44" r="1.15" fill="#b8152f" />
<line x1="52.70" y1="362.83" x2="52.70" y2="372.61" stroke="#3aa9cc" stroke-width="0.8" />
<line x1="51.20" y1="362.83" x2="54.20" y2="362.83" stroke="#3aa9cc" stroke-width="0.8" />
<line x1="51.20" y1="372.61" x2="54.20" y2="372.61" stroke="#3aa9cc" stroke-width="0.8" />
<circle cx="52.70" cy="362.83" r="1.15" fill="#3aa9cc" />
<circle cx="52.00" cy="368.81" r="1.15" fill="#3aa9cc" />
<circle cx="53.50" cy="369.35" r="1.15" fill="#3aa9cc" />
<circle cx="52.70" cy="371.31" r="1.15" fill="#3aa9cc" />
<line x1="58.50" y1="356.31" x2="58.50" y2="367.18" stroke="#3b2150" stroke-width="0.8" />
<line x1="57.00" y1="356.31" x2="60.00" y2="356.31" stroke="#3b2150" stroke-width="0.8" />
<line x1="57.00" y1="367.18" x2="60.00" y2="367.18" stroke="#3b2150" stroke-width="0.8" />
<circle cx="58.50" cy="356.31" r="1.15" fill="#3b2150" />
<circle cx="57.20" cy="362.29" r="1.15" fill="#3b2150" />
<circle cx="59.80" cy="362.29" r="1.15" fill="#3b2150" />
<circle cx="58.50" cy="363.92" r="1.15" fill="#3b2150" />
<rect x="74.00" y="325.87" width="5.20" height="47.83" fill="#8b97c0" />
<rect x="80.15" y="346.52" width="4.70" height="27.18" fill="#e8877b" />
<rect x="86.05" y="332.39" width="5.30" height="41.31" fill="#aad5f1" />
<rect x="91.95" y="336.74" width="5.30" height="36.96" fill="#9d80b2" />
<circle cx="75.40" cy="325.55" r="1.30" fill="#1d3c6e" />
<circle cx="76.60" cy="324.78" r="1.30" fill="#1d3c6e" />
<circle cx="77.80" cy="325.55" r="1.30" fill="#1d3c6e" />
<circle cx="76.60" cy="326.31" r="1.30" fill="#1d3c6e" />
<line x1="82.50" y1="343.26" x2="82.50" y2="349.79" stroke="#b8152f" stroke-width="0.8" />
<line x1="81.00" y1="343.26" x2="84.00" y2="343.26" stroke="#b8152f" stroke-width="0.8" />
<line x1="81.00" y1="349.79" x2="84.00" y2="349.79" stroke="#b8152f" stroke-width="0.8" />
<circle cx="82.50" cy="343.26" r="1.15" fill="#b8152f" />
<circle cx="82.50" cy="346.52" r="1.15" fill="#b8152f" />
<line x1="88.70" y1="329.13" x2="88.70" y2="343.26" stroke="#3aa9cc" stroke-width="0.8" />
<line x1="87.10" y1="329.13" x2="90.30" y2="329.13" stroke="#3aa9cc" stroke-width="0.8" />
<line x1="87.10" y1="343.26" x2="90.30" y2="343.26" stroke="#3aa9cc" stroke-width="0.8" />
<circle cx="87.50" cy="331.31" r="1.15" fill="#3aa9cc" />
<circle cx="89.90" cy="332.39" r="1.15" fill="#3aa9cc" />
<circle cx="88.00" cy="333.48" r="1.15" fill="#3aa9cc" />
<circle cx="89.80" cy="335.65" r="1.15" fill="#3aa9cc" />
<circle cx="87.40" cy="336.74" r="1.15" fill="#3aa9cc" />
<circle cx="88.70" cy="340.00" r="1.15" fill="#3aa9cc" />
<circle cx="88.70" cy="344.35" r="1.15" fill="#3aa9cc" />
<circle cx="88.30" cy="354.68" r="1.15" fill="#3aa9cc" />
<line x1="94.60" y1="323.70" x2="94.60" y2="346.52" stroke="#3b2150" stroke-width="0.8" />
<line x1="93.00" y1="323.70" x2="96.20" y2="323.70" stroke="#3b2150" stroke-width="0.8" />
<line x1="93.00" y1="346.52" x2="96.20" y2="346.52" stroke="#3b2150" stroke-width="0.8" />
<circle cx="94.60" cy="312.83" r="1.15" fill="#3b2150" />
<circle cx="94.60" cy="330.22" r="1.15" fill="#3b2150" />
<circle cx="93.30" cy="334.57" r="1.15" fill="#3b2150" />
<circle cx="95.90" cy="335.11" r="1.15" fill="#3b2150" />
<circle cx="94.00" cy="336.74" r="1.15" fill="#3b2150" />
<circle cx="95.40" cy="338.37" r="1.15" fill="#3b2150" />
<circle cx="93.40" cy="340.00" r="1.15" fill="#3b2150" />
<circle cx="95.60" cy="342.18" r="1.15" fill="#3b2150" />
<line x1="33.70" y1="373.70" x2="101.50" y2="373.70" stroke="#2e2e2e" stroke-width="1.3" />
<line x1="49.40" y1="373.70" x2="49.40" y2="376.70" stroke="#2e2e2e" stroke-width="1.0" />
<line x1="85.30" y1="373.70" x2="85.30" y2="376.70" stroke="#2e2e2e" stroke-width="1.0" />
<path d="M76.10,306.60 V303.00 H93.50 V306.60" stroke="#333333" fill="none" stroke-width="1.1" />
<text x="84.80" y="301.90" font-size="5.8" fill="#444" text-anchor="middle"  stroke="#444" stroke-width="0.1">ns</text>
<path d="M74.30,319.50 V316.10 H81.40 V319.50" stroke="#333333" fill="none" stroke-width="1.1" />
<text x="77.85" y="316.00" font-size="6.0" fill="#333333" text-anchor="middle" font-weight="bold" >*</text>
<text x="49.40" y="384.60" font-size="6.4" fill="#3a3a3a" text-anchor="middle" textLength="13.60" lengthAdjust="spacingAndGlyphs"  stroke="#3a3a3a" stroke-width="0.1">Bone</text>
<text x="49.40" y="392.20" font-size="6.4" fill="#3a3a3a" text-anchor="middle" textLength="18.80" lengthAdjust="spacingAndGlyphs"  stroke="#3a3a3a" stroke-width="0.1">marrow</text>
<text x="85.40" y="384.60" font-size="6.4" fill="#3a3a3a" text-anchor="middle" textLength="18.40" lengthAdjust="spacingAndGlyphs"  stroke="#3a3a3a" stroke-width="0.1">Spleen</text>
<line x1="146.00" y1="305.40" x2="146.00" y2="374.20" stroke="#2e2e2e" stroke-width="1.3" />
<line x1="142.50" y1="373.60" x2="146.00" y2="373.60" stroke="#2e2e2e" stroke-width="1.0" />
<text x="140.10" y="375.00" font-size="6.1" fill="#4a4a4a" text-anchor="end" >0</text>
<line x1="142.50" y1="362.70" x2="146.00" y2="362.70" stroke="#2e2e2e" stroke-width="1.0" />
<text x="140.10" y="364.10" font-size="6.1" fill="#4a4a4a" text-anchor="end" >20</text>
<line x1="142.50" y1="351.80" x2="146.00" y2="351.80" stroke="#2e2e2e" stroke-width="1.0" />
<text x="140.10" y="353.20" font-size="6.1" fill="#4a4a4a" text-anchor="end" >40</text>
<line x1="142.50" y1="340.90" x2="146.00" y2="340.90" stroke="#2e2e2e" stroke-width="1.0" />
<text x="140.10" y="342.30" font-size="6.1" fill="#4a4a4a" text-anchor="end" >60</text>
<line x1="142.50" y1="330.00" x2="146.00" y2="330.00" stroke="#2e2e2e" stroke-width="1.0" />
<text x="140.10" y="331.40" font-size="6.1" fill="#4a4a4a" text-anchor="end" >80</text>
<line x1="142.50" y1="319.10" x2="146.00" y2="319.10" stroke="#2e2e2e" stroke-width="1.0" />
<text x="140.10" y="320.50" font-size="6.1" fill="#4a4a4a" text-anchor="end" >100</text>
<line x1="142.50" y1="308.20" x2="146.00" y2="308.20" stroke="#2e2e2e" stroke-width="1.0" />
<text x="140.10" y="309.60" font-size="6.1" fill="#4a4a4a" text-anchor="end" >120</text>
<text x="0" y="0" font-size="7.0" font-weight="normal" fill="#333333" stroke="#333333" stroke-width="0.26" text-anchor="middle" textLength="48.00" lengthAdjust="spacingAndGlyphs" transform="translate(123.80 341.00) rotate(-90)">NKp46<tspan font-size="4" dy="-2">+</tspan><tspan dy="2"> NK cells, %</tspan></text>
<rect x="153.70" y="327.28" width="11.60" height="46.32" fill="#8b97c0" />
<rect x="166.80" y="346.90" width="11.80" height="26.70" fill="#e8877b" />
<rect x="180.20" y="326.19" width="11.80" height="47.42" fill="#aad5f1" />
<rect x="193.30" y="323.46" width="11.80" height="50.14" fill="#9d80b2" />
<circle cx="154.80" cy="321.28" r="1.30" fill="#1d3c6e" />
<circle cx="157.50" cy="320.74" r="1.30" fill="#1d3c6e" />
<circle cx="160.50" cy="321.83" r="1.30" fill="#1d3c6e" />
<circle cx="163.80" cy="321.28" r="1.30" fill="#1d3c6e" />
<circle cx="155.00" cy="324.00" r="1.30" fill="#1d3c6e" />
<circle cx="158.00" cy="322.92" r="1.30" fill="#1d3c6e" />
<circle cx="161.00" cy="324.55" r="1.30" fill="#1d3c6e" />
<circle cx="164.00" cy="323.46" r="1.30" fill="#1d3c6e" />
<circle cx="156.00" cy="326.19" r="1.30" fill="#1d3c6e" />
<circle cx="159.50" cy="325.64" r="1.30" fill="#1d3c6e" />
<circle cx="163.00" cy="326.73" r="1.30" fill="#1d3c6e" />
<circle cx="157.00" cy="328.37" r="1.30" fill="#1d3c6e" />
<circle cx="160.50" cy="328.91" r="1.30" fill="#1d3c6e" />
<circle cx="164.00" cy="327.82" r="1.30" fill="#1d3c6e" />
<circle cx="158.00" cy="330.55" r="1.30" fill="#1d3c6e" />
<circle cx="161.50" cy="331.09" r="1.30" fill="#1d3c6e" />
<circle cx="159.00" cy="333.27" r="1.30" fill="#1d3c6e" />
<circle cx="159.80" cy="337.09" r="1.30" fill="#1d3c6e" />
<line x1="172.70" y1="336.00" x2="172.70" y2="353.44" stroke="#b8152f" stroke-width="0.8" />
<line x1="170.20" y1="336.00" x2="175.20" y2="336.00" stroke="#b8152f" stroke-width="0.8" />
<line x1="170.20" y1="353.44" x2="175.20" y2="353.44" stroke="#b8152f" stroke-width="0.8" />
<circle cx="172.70" cy="326.19" r="1.20" fill="#b8152f" />
<circle cx="169.50" cy="339.27" r="1.20" fill="#b8152f" />
<circle cx="175.90" cy="337.63" r="1.20" fill="#b8152f" />
<circle cx="167.50" cy="341.99" r="1.20" fill="#b8152f" />
<circle cx="172.70" cy="343.08" r="1.20" fill="#b8152f" />
<circle cx="167.50" cy="346.90" r="1.20" fill="#b8152f" />
<circle cx="172.70" cy="346.90" r="1.20" fill="#b8152f" />
<circle cx="177.80" cy="346.90" r="1.20" fill="#b8152f" />
<circle cx="172.70" cy="350.71" r="1.20" fill="#b8152f" />
<circle cx="170.00" cy="358.89" r="1.20" fill="#b8152f" />
<circle cx="175.30" cy="357.25" r="1.20" fill="#b8152f" />
<line x1="186.10" y1="319.10" x2="186.10" y2="333.27" stroke="#3aa9cc" stroke-width="0.8" />
<line x1="183.60" y1="319.10" x2="188.60" y2="319.10" stroke="#3aa9cc" stroke-width="0.8" />
<line x1="183.60" y1="333.27" x2="188.60" y2="333.27" stroke="#3aa9cc" stroke-width="0.8" />
<circle cx="181.50" cy="320.19" r="1.20" fill="#3aa9cc" />
<circle cx="186.10" cy="319.65" r="1.20" fill="#3aa9cc" />
<circle cx="190.50" cy="320.74" r="1.20" fill="#3aa9cc" />
<circle cx="181.80" cy="322.92" r="1.20" fill="#3aa9cc" />
<circle cx="190.60" cy="323.46" r="1.20" fill="#3aa9cc" />
<circle cx="186.10" cy="326.73" r="1.20" fill="#3aa9cc" />
<circle cx="186.10" cy="331.09" r="1.20" fill="#3aa9cc" />
<circle cx="194.50" cy="323.19" r="1.25" fill="#3b2150" />
<circle cx="197.50" cy="322.92" r="1.25" fill="#3b2150" />
<circle cx="200.50" cy="322.64" r="1.25" fill="#3b2150" />
<circle cx="203.50" cy="323.19" r="1.25" fill="#3b2150" />
<line x1="145.50" y1="373.60" x2="212.20" y2="373.60" stroke="#2e2e2e" stroke-width="1.3" />
<line x1="179.10" y1="373.60" x2="179.10" y2="376.60" stroke="#2e2e2e" stroke-width="1.0" />
<path d="M158.40,305.70 V302.50 H197.80 V305.70" stroke="#333333" fill="none" stroke-width="1.1" />
<text x="178.10" y="300.90" font-size="5.8" fill="#444" text-anchor="middle"  stroke="#444" stroke-width="0.1">ns</text>
<path d="M158.40,314.60 V311.50 H172.50 V314.60" stroke="#333333" fill="none" stroke-width="1.1" />
<text x="165.45" y="311.20" font-size="6.0" fill="#333333" text-anchor="middle" font-weight="bold" >*</text>
<text x="179.20" y="385.10" font-size="6.4" fill="#3a3a3a" text-anchor="middle" textLength="17.80" lengthAdjust="spacingAndGlyphs"  stroke="#3a3a3a" stroke-width="0.1">Spleen</text>
<line x1="254.20" y1="306.10" x2="254.20" y2="374.40" stroke="#2e2e2e" stroke-width="1.3" />
<line x1="250.70" y1="373.80" x2="254.20" y2="373.80" stroke="#2e2e2e" stroke-width="1.0" />
<text x="248.30" y="375.20" font-size="6.1" fill="#4a4a4a" text-anchor="end" >0</text>
<line x1="250.70" y1="357.10" x2="254.20" y2="357.10" stroke="#2e2e2e" stroke-width="1.0" />
<text x="248.30" y="358.50" font-size="6.1" fill="#4a4a4a" text-anchor="end" >20</text>
<line x1="250.70" y1="340.40" x2="254.20" y2="340.40" stroke="#2e2e2e" stroke-width="1.0" />
<text x="248.30" y="341.80" font-size="6.1" fill="#4a4a4a" text-anchor="end" >40</text>
<line x1="250.70" y1="323.70" x2="254.20" y2="323.70" stroke="#2e2e2e" stroke-width="1.0" />
<text x="248.30" y="325.10" font-size="6.1" fill="#4a4a4a" text-anchor="end" >60</text>
<line x1="250.70" y1="307.00" x2="254.20" y2="307.00" stroke="#2e2e2e" stroke-width="1.0" />
<text x="248.30" y="308.40" font-size="6.1" fill="#4a4a4a" text-anchor="end" >80</text>
<text x="0" y="0" font-size="7.0" font-weight="normal" fill="#333333" stroke="#333333" stroke-width="0.26" text-anchor="middle" textLength="33.40" lengthAdjust="spacingAndGlyphs" transform="translate(235.80 340.80) rotate(-90)">% in NK cells</text>
<text x="254.20" y="295.30" font-size="7.7" fill="#3a3a3a" textLength="65.60" lengthAdjust="spacingAndGlyphs"  stroke="#3a3a3a" stroke-width="0.1">Inhibitory receptors</text>
<rect x="256.65" y="347.08" width="4.10" height="26.72" fill="#8b97c0" />
<rect x="260.95" y="336.48" width="4.10" height="37.32" fill="#e8877b" />
<rect x="265.65" y="348.33" width="4.10" height="25.47" fill="#9d80b2" />
<line x1="258.70" y1="343.74" x2="258.70" y2="350.42" stroke="#1d3c6e" stroke-width="0.8" />
<line x1="257.30" y1="343.74" x2="260.10" y2="343.74" stroke="#1d3c6e" stroke-width="0.8" />
<line x1="257.30" y1="350.42" x2="260.10" y2="350.42" stroke="#1d3c6e" stroke-width="0.8" />
<circle cx="258.70" cy="343.74" r="1.15" fill="#1d3c6e" />
<circle cx="257.60" cy="346.25" r="1.15" fill="#1d3c6e" />
<circle cx="259.80" cy="347.08" r="1.15" fill="#1d3c6e" />
<circle cx="258.70" cy="349.59" r="1.15" fill="#1d3c6e" />
<circle cx="258.70" cy="351.25" r="1.15" fill="#1d3c6e" />
<line x1="263.00" y1="324.54" x2="263.00" y2="342.07" stroke="#b8152f" stroke-width="0.8" />
<line x1="261.60" y1="324.54" x2="264.40" y2="324.54" stroke="#b8152f" stroke-width="0.8" />
<line x1="261.60" y1="342.07" x2="264.40" y2="342.07" stroke="#b8152f" stroke-width="0.8" />
<circle cx="263.00" cy="324.54" r="1.15" fill="#b8152f" />
<circle cx="262.00" cy="334.56" r="1.15" fill="#b8152f" />
<circle cx="264.00" cy="335.39" r="1.15" fill="#b8152f" />
<circle cx="263.00" cy="337.06" r="1.15" fill="#b8152f" />
<circle cx="263.00" cy="338.73" r="1.15" fill="#b8152f" />
<line x1="267.70" y1="343.74" x2="267.70" y2="352.09" stroke="#3b2150" stroke-width="0.8" />
<line x1="266.30" y1="343.74" x2="269.10" y2="343.74" stroke="#3b2150" stroke-width="0.8" />
<line x1="266.30" y1="352.09" x2="269.10" y2="352.09" stroke="#3b2150" stroke-width="0.8" />
<circle cx="267.70" cy="343.74" r="1.15" fill="#3b2150" />
<circle cx="266.70" cy="347.92" r="1.15" fill="#3b2150" />
<circle cx="268.70" cy="347.92" r="1.15" fill="#3b2150" />
<rect x="276.15" y="372.13" width="4.10" height="1.67" fill="#8b97c0" />
<rect x="280.55" y="365.87" width="4.10" height="7.93" fill="#e8877b" />
<rect x="289.35" y="372.55" width="4.10" height="1.25" fill="#9d80b2" />
<circle cx="277.20" cy="371.71" r="1.15" fill="#1d3c6e" />
<circle cx="279.20" cy="372.13" r="1.15" fill="#1d3c6e" />
<circle cx="278.20" cy="371.30" r="1.15" fill="#1d3c6e" />
<circle cx="278.20" cy="372.80" r="1.15" fill="#1d3c6e" />
<line x1="282.60" y1="358.77" x2="282.60" y2="372.13" stroke="#b8152f" stroke-width="0.8" />
<line x1="281.20" y1="358.77" x2="284.00" y2="358.77" stroke="#b8152f" stroke-width="0.8" />
<line x1="281.20" y1="372.13" x2="284.00" y2="372.13" stroke="#b8152f" stroke-width="0.8" />
<circle cx="282.60" cy="355.93" r="1.15" fill="#b8152f" />
<circle cx="283.40" cy="358.77" r="1.15" fill="#b8152f" />
<circle cx="282.00" cy="363.78" r="1.15" fill="#b8152f" />
<circle cx="283.20" cy="365.45" r="1.15" fill="#b8152f" />
<circle cx="282.40" cy="367.95" r="1.15" fill="#b8152f" />
<circle cx="283.00" cy="369.62" r="1.15" fill="#b8152f" />
<circle cx="282.30" cy="371.30" r="1.15" fill="#b8152f" />
<line x1="285.90" y1="372.55" x2="285.90" y2="376.72" stroke="#3aa9cc" stroke-width="0.9" />
<circle cx="285.90" cy="373.80" r="1.00" fill="#3aa9cc" />
<circle cx="291.40" cy="369.21" r="1.15" fill="#3b2150" />
<circle cx="290.40" cy="372.55" r="1.15" fill="#3b2150" />
<circle cx="292.40" cy="372.55" r="1.15" fill="#3b2150" />
<rect x="300.25" y="372.13" width="4.10" height="1.67" fill="#8b97c0" />
<rect x="304.75" y="367.95" width="4.10" height="5.85" fill="#e8877b" />
<rect x="309.05" y="370.88" width="4.10" height="2.92" fill="#aad5f1" />
<rect x="313.45" y="372.97" width="4.10" height="0.83" fill="#9d80b2" />
<circle cx="301.30" cy="371.71" r="1.15" fill="#1d3c6e" />
<circle cx="303.30" cy="371.71" r="1.15" fill="#1d3c6e" />
<circle cx="302.30" cy="371.13" r="1.15" fill="#1d3c6e" />
<circle cx="302.30" cy="372.55" r="1.15" fill="#1d3c6e" />
<line x1="306.80" y1="364.62" x2="306.80" y2="371.30" stroke="#b8152f" stroke-width="0.8" />
<line x1="305.40" y1="364.62" x2="308.20" y2="364.62" stroke="#b8152f" stroke-width="0.8" />
<line x1="305.40" y1="371.30" x2="308.20" y2="371.30" stroke="#b8152f" stroke-width="0.8" />
<circle cx="306.80" cy="363.78" r="1.15" fill="#b8152f" />
<circle cx="305.80" cy="366.29" r="1.15" fill="#b8152f" />
<circle cx="307.80" cy="367.12" r="1.15" fill="#b8152f" />
<circle cx="306.30" cy="368.37" r="1.15" fill="#b8152f" />
<circle cx="307.30" cy="369.21" r="1.15" fill="#b8152f" />
<circle cx="306.80" cy="370.46" r="1.15" fill="#b8152f" />
<line x1="311.10" y1="367.12" x2="311.10" y2="375.47" stroke="#3aa9cc" stroke-width="0.8" />
<line x1="309.70" y1="367.12" x2="312.50" y2="367.12" stroke="#3aa9cc" stroke-width="0.8" />
<line x1="309.70" y1="375.47" x2="312.50" y2="375.47" stroke="#3aa9cc" stroke-width="0.8" />
<circle cx="311.10" cy="367.12" r="1.10" fill="#3aa9cc" />
<circle cx="311.10" cy="370.46" r="1.10" fill="#3aa9cc" />
<circle cx="315.50" cy="372.13" r="1.10" fill="#3b2150" />
<circle cx="314.50" cy="372.97" r="1.10" fill="#3b2150" />
<circle cx="316.50" cy="372.97" r="1.10" fill="#3b2150" />
<line x1="253.70" y1="373.80" x2="319.80" y2="373.80" stroke="#2e2e2e" stroke-width="1.3" />
<line x1="263.00" y1="373.80" x2="263.00" y2="376.80" stroke="#2e2e2e" stroke-width="1.0" />
<line x1="285.90" y1="373.80" x2="285.90" y2="376.80" stroke="#2e2e2e" stroke-width="1.0" />
<line x1="308.90" y1="373.80" x2="308.90" y2="376.80" stroke="#2e2e2e" stroke-width="1.0" />
<path d="M257.90,308.90 V307.00 H269.10 V308.90" stroke="#333333" fill="none" stroke-width="1.1" />
<text x="263.50" y="304.70" font-size="5.8" fill="#444" text-anchor="middle"  stroke="#444" stroke-width="0.1">ns</text>
<path d="M257.90,319.50 V316.90 H263.50 V319.50" stroke="#333333" fill="none" stroke-width="1.1" />
<text x="260.70" y="317.40" font-size="6.0" fill="#333333" text-anchor="middle" font-weight="bold" >**</text>
<path d="M277.30,338.10 V335.80 H291.20 V338.10" stroke="#333333" fill="none" stroke-width="1.1" />
<text x="284.25" y="333.20" font-size="5.8" fill="#444" text-anchor="middle"  stroke="#444" stroke-width="0.1">ns</text>
<path d="M277.30,350.20 V348.20 H283.50 V350.20" stroke="#333333" fill="none" stroke-width="1.1" />
<text x="280.40" y="347.60" font-size="6.0" fill="#333333" text-anchor="middle" font-weight="bold" >***</text>
<path d="M302.40,344.40 V342.40 H316.50 V344.40" stroke="#333333" fill="none" stroke-width="1.1" />
<text x="309.45" y="340.00" font-size="5.8" fill="#444" text-anchor="middle"  stroke="#444" stroke-width="0.1">ns</text>
<path d="M302.40,355.70 V353.80 H307.40 V355.70" stroke="#333333" fill="none" stroke-width="1.1" />
<text x="304.90" y="353.40" font-size="6.0" fill="#333333" text-anchor="middle" font-weight="bold" >****</text>
<text x="263.60" y="385.50" font-size="6.4" fill="#3a3a3a" text-anchor="middle" textLength="17.60" lengthAdjust="spacingAndGlyphs"  stroke="#3a3a3a" stroke-width="0.1">NKG2A</text>
<text x="284.60" y="385.50" font-size="6.4" fill="#3a3a3a" text-anchor="middle" textLength="13.00" lengthAdjust="spacingAndGlyphs"  stroke="#3a3a3a" stroke-width="0.1">Lag-3</text>
<text x="308.90" y="385.50" font-size="6.4" fill="#3a3a3a" text-anchor="middle" textLength="12.60" lengthAdjust="spacingAndGlyphs"  stroke="#3a3a3a" stroke-width="0.1">TIGIT</text>
<line x1="366.70" y1="305.70" x2="366.70" y2="374.30" stroke="#2e2e2e" stroke-width="1.3" />
<line x1="363.20" y1="374.10" x2="366.70" y2="374.10" stroke="#2e2e2e" stroke-width="1.0" />
<text x="360.80" y="375.50" font-size="6.1" fill="#4a4a4a" text-anchor="end" >0</text>
<line x1="363.20" y1="360.75" x2="366.70" y2="360.75" stroke="#2e2e2e" stroke-width="1.0" />
<text x="360.80" y="362.15" font-size="6.1" fill="#4a4a4a" text-anchor="end" >20</text>
<line x1="363.20" y1="347.40" x2="366.70" y2="347.40" stroke="#2e2e2e" stroke-width="1.0" />
<text x="360.80" y="348.80" font-size="6.1" fill="#4a4a4a" text-anchor="end" >40</text>
<line x1="363.20" y1="334.05" x2="366.70" y2="334.05" stroke="#2e2e2e" stroke-width="1.0" />
<text x="360.80" y="335.45" font-size="6.1" fill="#4a4a4a" text-anchor="end" >60</text>
<line x1="363.20" y1="320.70" x2="366.70" y2="320.70" stroke="#2e2e2e" stroke-width="1.0" />
<text x="360.80" y="322.10" font-size="6.1" fill="#4a4a4a" text-anchor="end" >80</text>
<line x1="363.20" y1="307.35" x2="366.70" y2="307.35" stroke="#2e2e2e" stroke-width="1.0" />
<text x="360.80" y="308.75" font-size="6.1" fill="#4a4a4a" text-anchor="end" >100</text>
<text x="0" y="0" font-size="7.0" font-weight="normal" fill="#333333" stroke="#333333" stroke-width="0.26" text-anchor="middle" textLength="45.80" lengthAdjust="spacingAndGlyphs" transform="translate(346.20 340.80) rotate(-90)">Ki-67<tspan font-size="4" dy="-2">+</tspan><tspan dy="2"> NK cells, %</tspan></text>
<rect x="371.75" y="356.08" width="6.30" height="17.62" fill="#8b97c0" />
<rect x="379.00" y="332.05" width="6.80" height="41.65" fill="#e8877b" />
<rect x="386.15" y="356.75" width="6.70" height="16.95" fill="#9d80b2" />
<line x1="374.90" y1="348.07" x2="374.90" y2="362.75" stroke="#1d3c6e" stroke-width="0.8" />
<line x1="373.10" y1="348.07" x2="376.70" y2="348.07" stroke="#1d3c6e" stroke-width="0.8" />
<line x1="373.10" y1="362.75" x2="376.70" y2="362.75" stroke="#1d3c6e" stroke-width="0.8" />
<circle cx="374.70" cy="342.06" r="1.15" fill="#1d3c6e" />
<circle cx="372.40" cy="354.08" r="1.15" fill="#1d3c6e" />
<circle cx="376.80" cy="354.08" r="1.15" fill="#1d3c6e" />
<circle cx="374.90" cy="351.00" r="1.15" fill="#1d3c6e" />
<circle cx="372.40" cy="362.22" r="1.15" fill="#1d3c6e" />
<circle cx="376.80" cy="362.22" r="1.15" fill="#1d3c6e" />
<circle cx="374.90" cy="358.08" r="1.15" fill="#1d3c6e" />
<line x1="382.40" y1="322.04" x2="382.40" y2="340.73" stroke="#b8152f" stroke-width="0.8" />
<line x1="380.60" y1="322.04" x2="384.20" y2="322.04" stroke="#b8152f" stroke-width="0.8" />
<line x1="380.60" y1="340.73" x2="384.20" y2="340.73" stroke="#b8152f" stroke-width="0.8" />
<circle cx="382.40" cy="318.70" r="1.15" fill="#b8152f" />
<circle cx="379.30" cy="325.57" r="1.15" fill="#b8152f" />
<circle cx="384.80" cy="325.57" r="1.15" fill="#b8152f" />
<circle cx="379.30" cy="332.38" r="1.15" fill="#b8152f" />
<circle cx="384.80" cy="332.38" r="1.15" fill="#b8152f" />
<circle cx="382.40" cy="337.39" r="1.15" fill="#b8152f" />
<circle cx="379.30" cy="342.39" r="1.15" fill="#b8152f" />
<circle cx="384.80" cy="342.39" r="1.15" fill="#b8152f" />
<line x1="389.50" y1="349.40" x2="389.50" y2="362.75" stroke="#3b2150" stroke-width="0.8" />
<line x1="387.70" y1="349.40" x2="391.30" y2="349.40" stroke="#3b2150" stroke-width="0.8" />
<line x1="387.70" y1="362.75" x2="391.30" y2="362.75" stroke="#3b2150" stroke-width="0.8" />
<circle cx="389.50" cy="347.40" r="1.15" fill="#3b2150" />
<circle cx="387.20" cy="355.41" r="1.15" fill="#3b2150" />
<circle cx="391.80" cy="355.41" r="1.15" fill="#3b2150" />
<circle cx="389.50" cy="363.42" r="1.15" fill="#3b2150" />
<rect x="408.35" y="364.75" width="6.50" height="8.94" fill="#8b97c0" />
<rect x="415.90" y="343.06" width="6.20" height="30.64" fill="#e8877b" />
<rect x="423.10" y="361.08" width="6.20" height="12.62" fill="#9d80b2" />
<line x1="411.60" y1="362.75" x2="411.60" y2="367.43" stroke="#1d3c6e" stroke-width="0.8" />
<line x1="409.90" y1="362.75" x2="413.30" y2="362.75" stroke="#1d3c6e" stroke-width="0.8" />
<line x1="409.90" y1="367.43" x2="413.30" y2="367.43" stroke="#1d3c6e" stroke-width="0.8" />
<circle cx="409.60" cy="363.42" r="1.15" fill="#1d3c6e" />
<circle cx="411.60" cy="362.09" r="1.15" fill="#1d3c6e" />
<circle cx="413.60" cy="363.42" r="1.15" fill="#1d3c6e" />
<circle cx="410.20" cy="365.42" r="1.15" fill="#1d3c6e" />
<circle cx="413.00" cy="365.76" r="1.15" fill="#1d3c6e" />
<circle cx="411.60" cy="367.43" r="1.15" fill="#1d3c6e" />
<circle cx="409.80" cy="368.09" r="1.15" fill="#1d3c6e" />
<circle cx="413.40" cy="368.09" r="1.15" fill="#1d3c6e" />
<line x1="419.00" y1="330.05" x2="419.00" y2="356.08" stroke="#b8152f" stroke-width="0.8" />
<line x1="417.30" y1="330.05" x2="420.70" y2="330.05" stroke="#b8152f" stroke-width="0.8" />
<line x1="417.30" y1="356.08" x2="420.70" y2="356.08" stroke="#b8152f" stroke-width="0.8" />
<circle cx="419.00" cy="327.38" r="1.15" fill="#b8152f" />
<circle cx="416.60" cy="331.38" r="1.15" fill="#b8152f" />
<circle cx="421.40" cy="331.38" r="1.15" fill="#b8152f" />
<circle cx="417.00" cy="336.05" r="1.15" fill="#b8152f" />
<circle cx="421.00" cy="335.39" r="1.15" fill="#b8152f" />
<circle cx="419.00" cy="343.40" r="1.15" fill="#b8152f" />
<circle cx="419.00" cy="348.74" r="1.15" fill="#b8152f" />
<circle cx="419.00" cy="354.08" r="1.15" fill="#b8152f" />
<line x1="426.20" y1="355.41" x2="426.20" y2="366.76" stroke="#3b2150" stroke-width="0.8" />
<line x1="424.50" y1="355.41" x2="427.90" y2="355.41" stroke="#3b2150" stroke-width="0.8" />
<line x1="424.50" y1="366.76" x2="427.90" y2="366.76" stroke="#3b2150" stroke-width="0.8" />
<circle cx="424.00" cy="355.41" r="1.15" fill="#3b2150" />
<circle cx="428.40" cy="355.41" r="1.15" fill="#3b2150" />
<circle cx="426.20" cy="361.42" r="1.15" fill="#3b2150" />
<circle cx="424.20" cy="366.09" r="1.15" fill="#3b2150" />
<circle cx="428.20" cy="365.42" r="1.15" fill="#3b2150" />
<line x1="366.20" y1="373.70" x2="433.00" y2="373.70" stroke="#2e2e2e" stroke-width="1.3" />
<line x1="382.40" y1="373.70" x2="382.40" y2="376.70" stroke="#2e2e2e" stroke-width="1.0" />
<line x1="418.40" y1="373.70" x2="418.40" y2="376.70" stroke="#2e2e2e" stroke-width="1.0" />
<path d="M373.50,304.60 V302.00 H388.40 V304.60" stroke="#333333" fill="none" stroke-width="1.1" />
<text x="380.95" y="300.10" font-size="5.8" fill="#444" text-anchor="middle"  stroke="#444" stroke-width="0.1">ns</text>
<path d="M372.90,315.30 V312.60 H381.60 V315.30" stroke="#333333" fill="none" stroke-width="1.1" />
<text x="377.25" y="312.50" font-size="6.0" fill="#333333" text-anchor="middle" font-weight="bold" >***</text>
<path d="M410.90,311.40 V308.40 H426.40 V311.40" stroke="#333333" fill="none" stroke-width="1.1" />
<text x="418.65" y="306.10" font-size="5.8" fill="#444" text-anchor="middle"  stroke="#444" stroke-width="0.1">ns</text>
<path d="M408.40,323.30 V320.40 H418.40 V323.30" stroke="#333333" fill="none" stroke-width="1.1" />
<text x="413.40" y="319.70" font-size="6.0" fill="#333333" text-anchor="middle" font-weight="bold" >****</text>
<text x="382.20" y="384.90" font-size="6.4" fill="#3a3a3a" text-anchor="middle" textLength="13.50" lengthAdjust="spacingAndGlyphs"  stroke="#3a3a3a" stroke-width="0.1">Bone</text>
<text x="382.50" y="392.20" font-size="6.4" fill="#3a3a3a" text-anchor="middle" textLength="19.00" lengthAdjust="spacingAndGlyphs"  stroke="#3a3a3a" stroke-width="0.1">marrow</text>
<text x="418.60" y="384.90" font-size="6.4" fill="#3a3a3a" text-anchor="middle" textLength="18.20" lengthAdjust="spacingAndGlyphs"  stroke="#3a3a3a" stroke-width="0.1">Spleen</text>
<circle cx="444.10" cy="325.10" r="2.30" fill="#15405a" />
<text x="449.40" y="327.30" font-size="6.35" fill="#333" textLength="18.70" lengthAdjust="spacingAndGlyphs"  stroke="#333" stroke-width="0.1">Control</text>
<circle cx="444.10" cy="334.60" r="2.30" fill="#a3152f" />
<text x="449.40" y="336.80" font-size="6.35" fill="#333" textLength="36.20" lengthAdjust="spacingAndGlyphs"  stroke="#333" stroke-width="0.1">CML-exposed</text>
<circle cx="444.10" cy="344.20" r="2.30" fill="#40aac4" />
<text x="449.40" y="346.40" font-size="6.35" fill="#333" textLength="60.80" lengthAdjust="spacingAndGlyphs"  stroke="#333" stroke-width="0.1">CML 6w post reversion</text>
<circle cx="444.10" cy="353.70" r="2.30" fill="#2f1a40" />
<text x="449.40" y="355.90" font-size="6.35" fill="#333" textLength="64.20" lengthAdjust="spacingAndGlyphs"  stroke="#333" stroke-width="0.1">CML 11w post reversion</text>
<line x1="30.90" y1="427.00" x2="30.90" y2="496.60" stroke="#2e2e2e" stroke-width="1.3" />
<line x1="27.40" y1="496.00" x2="30.90" y2="496.00" stroke="#2e2e2e" stroke-width="1.0" />
<text x="25.00" y="497.40" font-size="6.1" fill="#4a4a4a" text-anchor="end" >0</text>
<line x1="27.40" y1="479.40" x2="30.90" y2="479.40" stroke="#2e2e2e" stroke-width="1.0" />
<text x="25.00" y="480.80" font-size="6.1" fill="#4a4a4a" text-anchor="end" >1</text>
<line x1="27.40" y1="462.80" x2="30.90" y2="462.80" stroke="#2e2e2e" stroke-width="1.0" />
<text x="25.00" y="464.20" font-size="6.1" fill="#4a4a4a" text-anchor="end" >2</text>
<line x1="27.40" y1="446.20" x2="30.90" y2="446.20" stroke="#2e2e2e" stroke-width="1.0" />
<text x="25.00" y="447.60" font-size="6.1" fill="#4a4a4a" text-anchor="end" >3</text>
<line x1="27.40" y1="429.60" x2="30.90" y2="429.60" stroke="#2e2e2e" stroke-width="1.0" />
<text x="25.00" y="431.00" font-size="6.1" fill="#4a4a4a" text-anchor="end" >4</text>
<text x="0" y="0" font-size="7.0" font-weight="normal" fill="#333333" stroke="#333333" stroke-width="0.26" text-anchor="middle" textLength="55.00" lengthAdjust="spacingAndGlyphs" transform="translate(16.20 461.50) rotate(-90)">NK cell frequencies, %</text>
<rect x="33.90" y="467.78" width="5.00" height="28.22" fill="#8b97c0" />
<rect x="42.60" y="482.22" width="5.00" height="13.78" fill="#e8877b" />
<rect x="51.50" y="473.59" width="5.00" height="22.41" fill="#f6c685" />
<line x1="36.40" y1="448.69" x2="36.40" y2="486.87" stroke="#2a5aa0" stroke-width="0.8" />
<line x1="34.90" y1="448.69" x2="37.90" y2="448.69" stroke="#2a5aa0" stroke-width="0.8" />
<line x1="34.90" y1="486.87" x2="37.90" y2="486.87" stroke="#2a5aa0" stroke-width="0.8" />
<circle cx="34.80" cy="443.54" r="1.10" fill="#1f3f7a" />
<circle cx="38.50" cy="443.54" r="1.10" fill="#1f3f7a" />
<circle cx="36.40" cy="454.50" r="1.10" fill="#1f3f7a" />
<circle cx="36.40" cy="462.80" r="1.10" fill="#1f3f7a" />
<circle cx="35.80" cy="469.44" r="1.10" fill="#1f3f7a" />
<circle cx="37.00" cy="474.42" r="1.10" fill="#1f3f7a" />
<circle cx="36.00" cy="479.40" r="1.10" fill="#1f3f7a" />
<circle cx="36.40" cy="486.87" r="1.10" fill="#1f3f7a" />
<circle cx="43.80" cy="480.73" r="1.10" fill="#b8152f" />
<circle cx="46.40" cy="481.39" r="1.10" fill="#b8152f" />
<circle cx="44.60" cy="483.55" r="1.10" fill="#b8152f" />
<circle cx="45.80" cy="485.21" r="1.10" fill="#b8152f" />
<circle cx="44.20" cy="486.87" r="1.10" fill="#b8152f" />
<circle cx="46.00" cy="488.53" r="1.10" fill="#b8152f" />
<circle cx="45.10" cy="491.02" r="1.10" fill="#b8152f" />
<circle cx="45.10" cy="493.51" r="1.10" fill="#b8152f" />
<line x1="54.00" y1="461.14" x2="54.00" y2="486.04" stroke="#e7a22e" stroke-width="0.8" />
<line x1="52.50" y1="461.14" x2="55.50" y2="461.14" stroke="#e7a22e" stroke-width="0.8" />
<line x1="52.50" y1="486.04" x2="55.50" y2="486.04" stroke="#e7a22e" stroke-width="0.8" />
<circle cx="54.00" cy="461.14" r="1.10" fill="#e7a22e" />
<circle cx="54.00" cy="465.29" r="1.10" fill="#e7a22e" />
<circle cx="54.00" cy="471.10" r="1.10" fill="#e7a22e" />
<circle cx="53.00" cy="481.06" r="1.10" fill="#e7a22e" />
<circle cx="55.00" cy="481.06" r="1.10" fill="#e7a22e" />
<circle cx="54.00" cy="476.08" r="1.10" fill="#e7a22e" />
<rect x="71.20" y="474.75" width="5.00" height="21.25" fill="#8b97c0" />
<rect x="79.90" y="487.20" width="5.00" height="8.80" fill="#e8877b" />
<rect x="88.70" y="471.10" width="4.80" height="24.90" fill="#f6c685" />
<line x1="73.70" y1="466.12" x2="73.70" y2="482.72" stroke="#2a5aa0" stroke-width="0.8" />
<line x1="72.20" y1="466.12" x2="75.20" y2="466.12" stroke="#2a5aa0" stroke-width="0.8" />
<line x1="72.20" y1="482.72" x2="75.20" y2="482.72" stroke="#2a5aa0" stroke-width="0.8" />
<circle cx="73.70" cy="462.80" r="1.10" fill="#1f3f7a" />
<circle cx="72.50" cy="465.29" r="1.10" fill="#1f3f7a" />
<circle cx="75.00" cy="466.45" r="1.10" fill="#1f3f7a" />
<circle cx="73.00" cy="470.27" r="1.10" fill="#1f3f7a" />
<circle cx="74.50" cy="473.59" r="1.10" fill="#1f3f7a" />
<circle cx="72.80" cy="476.08" r="1.10" fill="#1f3f7a" />
<circle cx="74.60" cy="478.57" r="1.10" fill="#1f3f7a" />
<circle cx="73.70" cy="481.06" r="1.10" fill="#1f3f7a" />
<circle cx="73.70" cy="486.87" r="1.10" fill="#1f3f7a" />
<circle cx="82.40" cy="480.73" r="1.10" fill="#b8152f" />
<circle cx="81.20" cy="484.38" r="1.10" fill="#b8152f" />
<circle cx="83.60" cy="485.71" r="1.10" fill="#b8152f" />
<circle cx="82.00" cy="487.70" r="1.10" fill="#b8152f" />
<circle cx="83.20" cy="489.03" r="1.10" fill="#b8152f" />
<circle cx="82.40" cy="490.69" r="1.10" fill="#b8152f" />
<line x1="91.10" y1="452.84" x2="91.10" y2="482.72" stroke="#e7a22e" stroke-width="0.8" />
<line x1="89.60" y1="452.84" x2="92.60" y2="452.84" stroke="#e7a22e" stroke-width="0.8" />
<line x1="89.60" y1="482.72" x2="92.60" y2="482.72" stroke="#e7a22e" stroke-width="0.8" />
<circle cx="91.10" cy="452.01" r="1.10" fill="#e7a22e" />
<circle cx="91.10" cy="456.99" r="1.10" fill="#e7a22e" />
<circle cx="91.10" cy="462.80" r="1.10" fill="#e7a22e" />
<circle cx="91.10" cy="469.44" r="1.10" fill="#e7a22e" />
<circle cx="90.00" cy="478.57" r="1.10" fill="#e7a22e" />
<circle cx="92.20" cy="479.40" r="1.10" fill="#e7a22e" />
<circle cx="91.10" cy="482.72" r="1.10" fill="#e7a22e" />
<line x1="30.40" y1="496.00" x2="96.60" y2="496.00" stroke="#2e2e2e" stroke-width="1.3" />
<line x1="45.10" y1="496.00" x2="45.10" y2="499.00" stroke="#2e2e2e" stroke-width="1.0" />
<line x1="82.20" y1="496.00" x2="82.20" y2="499.00" stroke="#2e2e2e" stroke-width="1.0" />
<path d="M36.30,425.50 V422.40 H54.40 V425.50" stroke="#333333" fill="none" stroke-width="1.1" />
<text x="45.35" y="420.70" font-size="5.8" fill="#444" text-anchor="middle"  stroke="#444" stroke-width="0.1">ns</text>
<path d="M35.20,437.30 V434.20 H43.50 V437.30" stroke="#333333" fill="none" stroke-width="1.1" />
<text x="39.35" y="433.40" font-size="6.0" fill="#333333" text-anchor="middle" font-weight="bold" >*</text>
<path d="M44.50,454.70 V451.60 H52.80 V454.70" stroke="#333333" fill="none" stroke-width="1.1" />
<text x="48.65" y="449.60" font-size="5.8" fill="#444" text-anchor="middle"  stroke="#444" stroke-width="0.1">ns</text>
<path d="M75.50,424.90 V421.80 H92.90 V424.90" stroke="#333333" fill="none" stroke-width="1.1" />
<text x="84.20" y="420.10" font-size="5.8" fill="#444" text-anchor="middle"  stroke="#444" stroke-width="0.1">ns</text>
<path d="M74.30,437.60 V434.60 H82.60 V437.60" stroke="#333333" fill="none" stroke-width="1.1" />
<text x="78.45" y="434.00" font-size="6.0" fill="#333333" text-anchor="middle" font-weight="bold" >*</text>
<path d="M83.40,447.30 V444.50 H91.70 V447.30" stroke="#333333" fill="none" stroke-width="1.1" />
<text x="87.55" y="444.00" font-size="6.0" fill="#333333" text-anchor="middle" font-weight="bold" >*</text>
<text x="44.80" y="507.20" font-size="6.4" fill="#3a3a3a" text-anchor="middle" textLength="6.80" lengthAdjust="spacingAndGlyphs"  stroke="#3a3a3a" stroke-width="0.1">PB</text>
<text x="82.10" y="507.20" font-size="6.4" fill="#3a3a3a" text-anchor="middle" textLength="18.20" lengthAdjust="spacingAndGlyphs"  stroke="#3a3a3a" stroke-width="0.1">Spleen</text>
<line x1="143.40" y1="428.30" x2="143.40" y2="496.60" stroke="#2e2e2e" stroke-width="1.3" />
<line x1="139.90" y1="496.30" x2="143.40" y2="496.30" stroke="#2e2e2e" stroke-width="1.0" />
<text x="137.50" y="497.70" font-size="6.1" fill="#4a4a4a" text-anchor="end" >0</text>
<line x1="139.90" y1="479.70" x2="143.40" y2="479.70" stroke="#2e2e2e" stroke-width="1.0" />
<text x="137.50" y="481.10" font-size="6.1" fill="#4a4a4a" text-anchor="end" >20</text>
<line x1="139.90" y1="463.10" x2="143.40" y2="463.10" stroke="#2e2e2e" stroke-width="1.0" />
<text x="137.50" y="464.50" font-size="6.1" fill="#4a4a4a" text-anchor="end" >40</text>
<line x1="139.90" y1="446.50" x2="143.40" y2="446.50" stroke="#2e2e2e" stroke-width="1.0" />
<text x="137.50" y="447.90" font-size="6.1" fill="#4a4a4a" text-anchor="end" >60</text>
<line x1="139.90" y1="429.90" x2="143.40" y2="429.90" stroke="#2e2e2e" stroke-width="1.0" />
<text x="137.50" y="431.30" font-size="6.1" fill="#4a4a4a" text-anchor="end" >80</text>
<text x="0" y="0" font-size="7.0" font-weight="normal" fill="#333333" stroke="#333333" stroke-width="0.26" text-anchor="middle" textLength="51.20" lengthAdjust="spacingAndGlyphs" transform="translate(126.30 462.70) rotate(-90)">NKG2A<tspan font-size="4" dy="-2">+</tspan><tspan dy="2"> NK cells, %</tspan></text>
<rect x="152.25" y="463.10" width="15.30" height="32.90" fill="#8b97c0" />
<rect x="168.65" y="447.75" width="15.30" height="48.25" fill="#e8877b" />
<rect x="184.85" y="447.75" width="15.30" height="48.25" fill="#f6c685" />
<line x1="159.90" y1="453.97" x2="159.90" y2="471.40" stroke="#1b2f55" stroke-width="0.8" />
<line x1="157.20" y1="453.97" x2="162.60" y2="453.97" stroke="#1b2f55" stroke-width="0.8" />
<line x1="157.20" y1="471.40" x2="162.60" y2="471.40" stroke="#1b2f55" stroke-width="0.8" />
<circle cx="154.60" cy="454.38" r="1.30" fill="#1b2f55" />
<circle cx="160.00" cy="453.80" r="1.30" fill="#1b2f55" />
<circle cx="165.30" cy="454.80" r="1.30" fill="#1b2f55" />
<circle cx="159.90" cy="459.78" r="1.30" fill="#1b2f55" />
<circle cx="155.00" cy="464.76" r="1.30" fill="#1b2f55" />
<circle cx="165.00" cy="464.76" r="1.30" fill="#1b2f55" />
<circle cx="159.90" cy="463.10" r="1.30" fill="#1b2f55" />
<circle cx="159.90" cy="471.81" r="1.30" fill="#1b2f55" />
<line x1="176.30" y1="440.28" x2="176.30" y2="454.80" stroke="#b8152f" stroke-width="0.8" />
<line x1="173.60" y1="440.28" x2="179.00" y2="440.28" stroke="#b8152f" stroke-width="0.8" />
<line x1="173.60" y1="454.80" x2="179.00" y2="454.80" stroke="#b8152f" stroke-width="0.8" />
<circle cx="176.30" cy="434.88" r="1.30" fill="#b8152f" />
<circle cx="173.60" cy="444.84" r="1.30" fill="#b8152f" />
<circle cx="179.00" cy="444.84" r="1.30" fill="#b8152f" />
<circle cx="170.60" cy="448.99" r="1.30" fill="#b8152f" />
<circle cx="176.30" cy="448.58" r="1.30" fill="#b8152f" />
<circle cx="182.00" cy="448.99" r="1.30" fill="#b8152f" />
<circle cx="173.60" cy="450.65" r="1.30" fill="#b8152f" />
<circle cx="179.00" cy="450.65" r="1.30" fill="#b8152f" />
<line x1="192.50" y1="440.69" x2="192.50" y2="454.80" stroke="#e7a22e" stroke-width="0.8" />
<line x1="189.80" y1="440.69" x2="195.20" y2="440.69" stroke="#e7a22e" stroke-width="0.8" />
<line x1="189.80" y1="454.80" x2="195.20" y2="454.80" stroke="#e7a22e" stroke-width="0.8" />
<circle cx="192.50" cy="439.03" r="1.30" fill="#e7a22e" />
<circle cx="190.40" cy="442.35" r="1.30" fill="#e7a22e" />
<circle cx="194.60" cy="442.35" r="1.30" fill="#e7a22e" />
<circle cx="189.20" cy="446.50" r="1.30" fill="#e7a22e" />
<circle cx="195.80" cy="446.50" r="1.30" fill="#e7a22e" />
<circle cx="192.50" cy="449.82" r="1.30" fill="#e7a22e" />
<circle cx="192.50" cy="454.80" r="1.30" fill="#e7a22e" />
<line x1="142.90" y1="496.00" x2="209.20" y2="496.00" stroke="#2e2e2e" stroke-width="1.3" />
<line x1="176.50" y1="496.00" x2="176.50" y2="499.00" stroke="#2e2e2e" stroke-width="1.0" />
<path d="M159.70,416.10 V412.70 H192.90 V416.10" stroke="#333333" fill="none" stroke-width="1.1" />
<text x="176.30" y="412.70" font-size="6.0" fill="#333333" text-anchor="middle" font-weight="bold" >**</text>
<path d="M159.70,430.00 V426.70 H176.30 V430.00" stroke="#333333" fill="none" stroke-width="1.1" />
<text x="168.00" y="426.40" font-size="6.0" fill="#333333" text-anchor="middle" font-weight="bold" >**</text>
<text x="176.60" y="507.20" font-size="6.4" fill="#3a3a3a" text-anchor="middle" textLength="17.70" lengthAdjust="spacingAndGlyphs"  stroke="#3a3a3a" stroke-width="0.1">Spleen</text>
<line x1="248.60" y1="428.00" x2="248.60" y2="496.60" stroke="#2e2e2e" stroke-width="1.3" />
<line x1="245.10" y1="496.10" x2="248.60" y2="496.10" stroke="#2e2e2e" stroke-width="1.0" />
<text x="242.70" y="497.50" font-size="6.1" fill="#4a4a4a" text-anchor="end" >0</text>
<line x1="245.10" y1="482.90" x2="248.60" y2="482.90" stroke="#2e2e2e" stroke-width="1.0" />
<text x="242.70" y="484.30" font-size="6.1" fill="#4a4a4a" text-anchor="end" >10</text>
<line x1="245.10" y1="469.70" x2="248.60" y2="469.70" stroke="#2e2e2e" stroke-width="1.0" />
<text x="242.70" y="471.10" font-size="6.1" fill="#4a4a4a" text-anchor="end" >20</text>
<line x1="245.10" y1="456.50" x2="248.60" y2="456.50" stroke="#2e2e2e" stroke-width="1.0" />
<text x="242.70" y="457.90" font-size="6.1" fill="#4a4a4a" text-anchor="end" >30</text>
<line x1="245.10" y1="443.30" x2="248.60" y2="443.30" stroke="#2e2e2e" stroke-width="1.0" />
<text x="242.70" y="444.70" font-size="6.1" fill="#4a4a4a" text-anchor="end" >40</text>
<line x1="245.10" y1="430.10" x2="248.60" y2="430.10" stroke="#2e2e2e" stroke-width="1.0" />
<text x="242.70" y="431.50" font-size="6.1" fill="#4a4a4a" text-anchor="end" >50</text>
<text x="0" y="0" font-size="7.0" font-weight="normal" fill="#333333" stroke="#333333" stroke-width="0.26" text-anchor="middle" textLength="33.40" lengthAdjust="spacingAndGlyphs" transform="translate(230.30 463.10) rotate(-90)">% in NK cells</text>
<rect x="253.30" y="493.46" width="6.20" height="2.54" fill="#8b97c0" />
<rect x="261.40" y="486.86" width="6.80" height="9.14" fill="#e8877b" />
<rect x="269.50" y="487.52" width="7.40" height="8.48" fill="#f6c685" />
<circle cx="254.20" cy="494.12" r="1.15" fill="#1f4a80" />
<circle cx="256.40" cy="492.80" r="1.15" fill="#1f4a80" />
<circle cx="258.50" cy="493.72" r="1.15" fill="#1f4a80" />
<circle cx="255.40" cy="495.04" r="1.15" fill="#1f4a80" />
<circle cx="257.60" cy="495.31" r="1.15" fill="#1f4a80" />
<circle cx="256.40" cy="491.08" r="1.15" fill="#1f4a80" />
<circle cx="256.40" cy="496.76" r="1.15" fill="#1f4a80" />
<line x1="264.80" y1="480.26" x2="264.80" y2="493.46" stroke="#b8152f" stroke-width="0.8" />
<line x1="263.00" y1="480.26" x2="266.60" y2="480.26" stroke="#b8152f" stroke-width="0.8" />
<line x1="263.00" y1="493.46" x2="266.60" y2="493.46" stroke="#b8152f" stroke-width="0.8" />
<circle cx="264.80" cy="476.30" r="1.15" fill="#b8152f" />
<circle cx="263.00" cy="483.56" r="1.15" fill="#b8152f" />
<circle cx="266.60" cy="484.22" r="1.15" fill="#b8152f" />
<circle cx="264.80" cy="486.20" r="1.15" fill="#b8152f" />
<circle cx="263.20" cy="488.84" r="1.15" fill="#b8152f" />
<circle cx="266.40" cy="489.50" r="1.15" fill="#b8152f" />
<circle cx="264.80" cy="492.14" r="1.15" fill="#b8152f" />
<line x1="273.20" y1="476.96" x2="273.20" y2="496.10" stroke="#e7a22e" stroke-width="0.8" />
<line x1="271.40" y1="476.96" x2="275.00" y2="476.96" stroke="#e7a22e" stroke-width="0.8" />
<line x1="271.40" y1="496.10" x2="275.00" y2="496.10" stroke="#e7a22e" stroke-width="0.8" />
<circle cx="273.20" cy="469.70" r="1.15" fill="#e7a22e" />
<circle cx="273.20" cy="482.90" r="1.15" fill="#e7a22e" />
<circle cx="271.50" cy="488.18" r="1.15" fill="#e7a22e" />
<circle cx="275.00" cy="488.18" r="1.15" fill="#e7a22e" />
<circle cx="273.20" cy="492.14" r="1.15" fill="#e7a22e" />
<circle cx="271.50" cy="494.12" r="1.15" fill="#e7a22e" />
<circle cx="275.00" cy="494.12" r="1.15" fill="#e7a22e" />
<rect x="286.25" y="489.10" width="7.30" height="6.90" fill="#8b97c0" />
<rect x="294.35" y="471.02" width="7.50" height="24.98" fill="#e8877b" />
<rect x="302.80" y="467.06" width="7.40" height="28.94" fill="#f6c685" />
<line x1="289.90" y1="486.20" x2="289.90" y2="492.14" stroke="#1f4a80" stroke-width="0.8" />
<line x1="288.10" y1="486.20" x2="291.70" y2="486.20" stroke="#1f4a80" stroke-width="0.8" />
<line x1="288.10" y1="492.14" x2="291.70" y2="492.14" stroke="#1f4a80" stroke-width="0.8" />
<circle cx="288.30" cy="486.60" r="1.15" fill="#1f4a80" />
<circle cx="291.60" cy="486.60" r="1.15" fill="#1f4a80" />
<circle cx="289.90" cy="487.92" r="1.15" fill="#1f4a80" />
<circle cx="289.90" cy="489.76" r="1.15" fill="#1f4a80" />
<circle cx="289.90" cy="491.88" r="1.15" fill="#1f4a80" />
<line x1="298.10" y1="451.88" x2="298.10" y2="489.50" stroke="#b8152f" stroke-width="0.8" />
<line x1="296.30" y1="451.88" x2="299.90" y2="451.88" stroke="#b8152f" stroke-width="0.8" />
<line x1="296.30" y1="489.50" x2="299.90" y2="489.50" stroke="#b8152f" stroke-width="0.8" />
<circle cx="298.10" cy="445.28" r="1.15" fill="#b8152f" />
<circle cx="298.10" cy="451.88" r="1.15" fill="#b8152f" />
<circle cx="295.60" cy="477.62" r="1.15" fill="#b8152f" />
<circle cx="298.10" cy="477.62" r="1.15" fill="#b8152f" />
<circle cx="300.60" cy="477.62" r="1.15" fill="#b8152f" />
<circle cx="298.10" cy="482.90" r="1.15" fill="#b8152f" />
<circle cx="298.10" cy="489.50" r="1.15" fill="#b8152f" />
<line x1="306.50" y1="458.48" x2="306.50" y2="474.98" stroke="#e7a22e" stroke-width="0.8" />
<line x1="304.70" y1="458.48" x2="308.30" y2="458.48" stroke="#e7a22e" stroke-width="0.8" />
<line x1="304.70" y1="474.98" x2="308.30" y2="474.98" stroke="#e7a22e" stroke-width="0.8" />
<circle cx="306.50" cy="452.54" r="1.15" fill="#e7a22e" />
<circle cx="304.80" cy="461.78" r="1.15" fill="#e7a22e" />
<circle cx="308.20" cy="461.78" r="1.15" fill="#e7a22e" />
<circle cx="306.50" cy="467.06" r="1.15" fill="#e7a22e" />
<circle cx="304.80" cy="469.70" r="1.15" fill="#e7a22e" />
<circle cx="308.20" cy="469.70" r="1.15" fill="#e7a22e" />
<circle cx="306.50" cy="473.66" r="1.15" fill="#e7a22e" />
<line x1="248.10" y1="496.00" x2="315.10" y2="496.00" stroke="#2e2e2e" stroke-width="1.3" />
<line x1="264.90" y1="496.00" x2="264.90" y2="499.00" stroke="#2e2e2e" stroke-width="1.0" />
<line x1="298.20" y1="496.00" x2="298.20" y2="499.00" stroke="#2e2e2e" stroke-width="1.0" />
<path d="M254.50,453.50 V450.00 H273.70 V453.50" stroke="#333333" fill="none" stroke-width="1.1" />
<text x="264.10" y="449.60" font-size="6.0" fill="#333333" text-anchor="middle" font-weight="bold" >*</text>
<path d="M256.00,468.40 V465.30 H264.70 V468.40" stroke="#333333" fill="none" stroke-width="1.1" />
<text x="260.35" y="465.00" font-size="6.0" fill="#333333" text-anchor="middle" font-weight="bold" >*</text>
<path d="M288.10,426.20 V422.50 H307.30 V426.20" stroke="#333333" fill="none" stroke-width="1.1" />
<text x="297.70" y="421.00" font-size="6.0" fill="#333333" text-anchor="middle" font-weight="bold" >*</text>
<path d="M288.90,441.70 V438.00 H298.60 V441.70" stroke="#333333" fill="none" stroke-width="1.1" />
<text x="293.75" y="436.10" font-size="5.8" fill="#444" text-anchor="middle"  stroke="#444" stroke-width="0.1">ns</text>
<text x="264.90" y="507.40" font-size="6.4" fill="#3a3a3a" text-anchor="middle" textLength="14.30" lengthAdjust="spacingAndGlyphs"  stroke="#3a3a3a" stroke-width="0.1">Lag-3</text>
<text x="298.40" y="507.40" font-size="6.4" fill="#3a3a3a" text-anchor="middle" textLength="13.50" lengthAdjust="spacingAndGlyphs"  stroke="#3a3a3a" stroke-width="0.1">TIGIT</text>
<circle cx="325.40" cy="452.00" r="2.10" fill="#1d3f66" />
<text x="330.80" y="454.20" font-size="6.3" fill="#333" textLength="18.70" lengthAdjust="spacingAndGlyphs"  stroke="#333" stroke-width="0.1">Control</text>
<circle cx="325.40" cy="461.50" r="2.10" fill="#b8152f" />
<text x="330.80" y="463.70" font-size="6.3" fill="#333" textLength="55.40" lengthAdjust="spacingAndGlyphs"  stroke="#333" stroke-width="0.1">CML-exposed vehicle</text>
<circle cx="325.40" cy="471.30" r="2.10" fill="#e0a040" />
<text x="330.80" y="473.50" font-size="6.3" fill="#333" textLength="54.20" lengthAdjust="spacingAndGlyphs"  stroke="#333" stroke-width="0.1">CML-exposed on TKI</text>
<rect x="0.5" y="0.5" width="519" height="514" fill="none" stroke="#5c5c5c" stroke-width="1"/>
</svg>
</body></html>
